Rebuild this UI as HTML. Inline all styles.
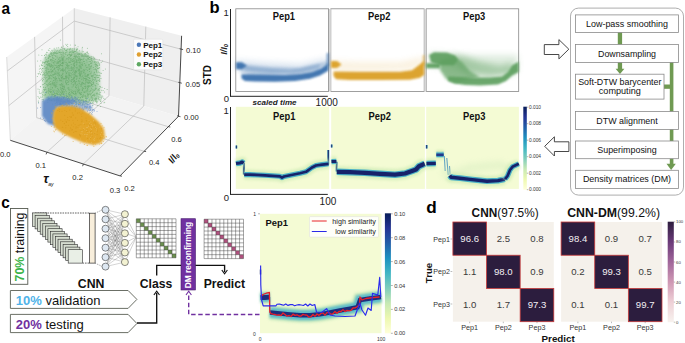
<!DOCTYPE html>
<html><head><meta charset="utf-8"><style>
html,body{margin:0;padding:0;background:#fff;width:685px;height:343px;overflow:hidden}
svg{display:block}
text{font-family:"Liberation Sans",sans-serif}
</style></head><body>
<svg width="685" height="343" viewBox="0 0 685 343" font-family="Liberation Sans, sans-serif">
<defs><filter id="blur05" filterUnits="userSpaceOnUse" x="0" y="0" width="685" height="343"><feGaussianBlur stdDeviation="0.5"/></filter><filter id="blur09" filterUnits="userSpaceOnUse" x="0" y="0" width="685" height="343"><feGaussianBlur stdDeviation="0.9"/></filter><filter id="blur1" filterUnits="userSpaceOnUse" x="0" y="0" width="685" height="343"><feGaussianBlur stdDeviation="1"/></filter><filter id="blur2" filterUnits="userSpaceOnUse" x="0" y="0" width="685" height="343"><feGaussianBlur stdDeviation="1.5"/></filter><filter id="blur3" filterUnits="userSpaceOnUse" x="0" y="0" width="685" height="343"><feGaussianBlur stdDeviation="3"/></filter></defs>
<rect width="685" height="343" fill="#fff"/>
<text transform="translate(1.6,13.7) scale(0.93,1)" font-size="16.5" font-weight="bold" fill="#000">a</text>
<polygon points="6.7,57.0 74.3,8.2 74.3,85.4 10.3,140.3" fill="#f5f5f5"/>
<polygon points="74.3,8.2 181.6,35.8 178.5,116.3 74.3,85.4" fill="#efefef"/>
<polygon points="10.3,140.3 74.3,85.4 178.5,116.3 120.0,175.9" fill="#f3f3f3"/>
<line x1="46.9" y1="152.2" x2="109.0" y2="95.7" stroke="#b4b4b4" stroke-width="0.6" fill="none"/>
<line x1="109.0" y1="95.7" x2="110.1" y2="17.4" stroke="#b4b4b4" stroke-width="0.6" fill="none"/>
<line x1="83.4" y1="164.0" x2="143.8" y2="106.0" stroke="#b4b4b4" stroke-width="0.6" fill="none"/>
<line x1="143.8" y1="106.0" x2="145.8" y2="26.6" stroke="#b4b4b4" stroke-width="0.6" fill="none"/>
<line x1="144.1" y1="151.3" x2="36.7" y2="117.7" stroke="#b4b4b4" stroke-width="0.6" fill="none"/>
<line x1="36.7" y1="117.7" x2="34.6" y2="36.9" stroke="#b4b4b4" stroke-width="0.6" fill="none"/>
<line x1="168.3" y1="126.7" x2="63.1" y2="95.0" stroke="#b4b4b4" stroke-width="0.6" fill="none"/>
<line x1="63.1" y1="95.0" x2="62.5" y2="16.7" stroke="#b4b4b4" stroke-width="0.6" fill="none"/>
<line x1="8.8" y1="105.6" x2="74.3" y2="53.2" stroke="#b4b4b4" stroke-width="0.6" fill="none"/>
<line x1="74.3" y1="53.2" x2="179.8" y2="82.8" stroke="#b4b4b4" stroke-width="0.6" fill="none"/>
<line x1="7.3" y1="70.9" x2="74.3" y2="21.1" stroke="#b4b4b4" stroke-width="0.6" fill="none"/>
<line x1="74.3" y1="21.1" x2="181.1" y2="49.2" stroke="#b4b4b4" stroke-width="0.6" fill="none"/>
<line x1="74.3" y1="8.2" x2="74.3" y2="85.4" stroke="#c4c4c4" stroke-width="0.7"/>
<line x1="10.3" y1="140.3" x2="6.7" y2="57.0" stroke="#c8c8c8" stroke-width="0.6"/>
<line x1="10.3" y1="140.3" x2="120.0" y2="175.9" stroke="#333" stroke-width="0.9"/>
<line x1="120.0" y1="175.9" x2="178.5" y2="116.3" stroke="#333" stroke-width="0.9"/>
<line x1="178.5" y1="116.3" x2="181.6" y2="35.8" stroke="#333" stroke-width="0.9"/>
<line x1="46.9" y1="152.2" x2="46.1" y2="154.4" stroke="#333" stroke-width="0.8"/>
<line x1="83.4" y1="164.0" x2="82.6" y2="166.2" stroke="#333" stroke-width="0.8"/>
<line x1="120.0" y1="175.9" x2="122.0" y2="176.2" stroke="#333" stroke-width="0.8"/>
<line x1="144.1" y1="151.3" x2="146.1" y2="151.6" stroke="#333" stroke-width="0.8"/>
<line x1="168.3" y1="126.7" x2="170.3" y2="127.0" stroke="#333" stroke-width="0.8"/>
<line x1="177.0" y1="115.8" x2="180.5" y2="116.7" stroke="#333" stroke-width="0.8"/>
<line x1="178.3" y1="82.3" x2="181.8" y2="83.2" stroke="#333" stroke-width="0.8"/>
<line x1="179.6" y1="48.7" x2="183.1" y2="49.6" stroke="#333" stroke-width="0.8"/>
<text x="0" y="156.5" font-size="7.6" font-weight="normal" font-style="normal" text-anchor="start" fill="#222" >0.0</text>
<text x="35.5" y="168.3" font-size="7.6" font-weight="normal" font-style="normal" text-anchor="start" fill="#222" >0.1</text>
<text x="72.3" y="180.2" font-size="7.6" font-weight="normal" font-style="normal" text-anchor="start" fill="#222" >0.2</text>
<text x="109.7" y="192.8" font-size="7.6" font-weight="normal" font-style="normal" text-anchor="start" fill="#222" >0.3</text>
<text x="124.2" y="190.6" font-size="7.6" font-weight="normal" font-style="normal" text-anchor="start" fill="#222" >0.2</text>
<text x="148.9" y="165.4" font-size="7.6" font-weight="normal" font-style="normal" text-anchor="start" fill="#222" >0.4</text>
<text x="171.2" y="141.8" font-size="7.6" font-weight="normal" font-style="normal" text-anchor="start" fill="#222" >0.6</text>
<text x="184" y="119.5" font-size="7.6" font-weight="normal" font-style="normal" text-anchor="start" fill="#222" >0.00</text>
<text x="185.5" y="86.5" font-size="7.6" font-weight="normal" font-style="normal" text-anchor="start" fill="#222" >0.05</text>
<text x="186" y="52.6" font-size="7.6" font-weight="normal" font-style="normal" text-anchor="start" fill="#222" >0.10</text>
<text x="43.2" y="183" font-size="13" font-weight="bold" font-style="italic" fill="#111">τ</text>
<text x="48.3" y="186.3" font-size="5" font-style="italic" fill="#111">ay</text>
<text transform="translate(176,159.6) rotate(-55)" x="0" y="0" font-size="9.5" font-weight="bold" font-style="italic" fill="#111" text-anchor="middle">I/I<tspan font-size="5.5" dy="1.5">0</tspan></text>
<text transform="translate(211.2,75) rotate(-90)" x="0" y="0" font-size="10" font-weight="bold" fill="#111" text-anchor="middle">STD</text>
<polygon points="43.5,61 46,56 53,51 62,48.5 75,49.5 90,56 99,63 100,100 85,104 60,101 43,99" fill="#7cb980" opacity="0.6" filter="url(#blur2)"/>
<polygon points="46,62 60,55 80,57 92,64 92,96 75,100 47,98" fill="#5ea862" opacity="0.35" filter="url(#blur3)"/>
<g fill="#5aa05f" opacity="0.6"><circle cx="69.5" cy="75.5" r="0.5"/><circle cx="49.3" cy="75.8" r="0.5"/><circle cx="83.1" cy="83.1" r="0.5"/><circle cx="49.7" cy="56.9" r="0.5"/><circle cx="73.4" cy="84.8" r="0.5"/><circle cx="83.7" cy="72.0" r="0.5"/><circle cx="87.0" cy="62.1" r="0.5"/><circle cx="64.8" cy="99.3" r="0.5"/><circle cx="105.0" cy="99.3" r="0.5"/><circle cx="81.3" cy="94.5" r="0.5"/><circle cx="48.8" cy="79.2" r="0.5"/><circle cx="49.7" cy="91.2" r="0.5"/><circle cx="59.7" cy="60.7" r="0.5"/><circle cx="42.5" cy="80.8" r="0.5"/><circle cx="79.3" cy="66.0" r="0.5"/><circle cx="101.4" cy="97.2" r="0.5"/><circle cx="79.5" cy="69.5" r="0.5"/><circle cx="78.9" cy="60.5" r="0.5"/><circle cx="76.3" cy="99.7" r="0.5"/><circle cx="77.2" cy="49.2" r="0.5"/><circle cx="85.8" cy="80.9" r="0.5"/><circle cx="86.5" cy="107.4" r="0.5"/><circle cx="81.8" cy="73.8" r="0.5"/><circle cx="100.9" cy="101.0" r="0.5"/><circle cx="92.9" cy="100.4" r="0.5"/><circle cx="81.0" cy="66.8" r="0.5"/><circle cx="64.0" cy="91.5" r="0.5"/><circle cx="67.7" cy="98.7" r="0.5"/><circle cx="70.6" cy="56.1" r="0.5"/><circle cx="84.8" cy="54.2" r="0.5"/><circle cx="78.0" cy="62.2" r="0.5"/><circle cx="48.2" cy="71.5" r="0.5"/><circle cx="51.4" cy="69.0" r="0.5"/><circle cx="38.3" cy="101.1" r="0.5"/><circle cx="87.0" cy="79.9" r="0.5"/><circle cx="53.1" cy="49.9" r="0.5"/><circle cx="81.3" cy="71.3" r="0.5"/><circle cx="85.3" cy="54.0" r="0.5"/><circle cx="87.4" cy="52.5" r="0.5"/><circle cx="60.9" cy="88.8" r="0.5"/><circle cx="80.2" cy="92.9" r="0.5"/><circle cx="93.0" cy="103.4" r="0.5"/><circle cx="103.1" cy="90.6" r="0.5"/><circle cx="82.9" cy="54.3" r="0.5"/><circle cx="94.9" cy="84.9" r="0.5"/><circle cx="75.6" cy="93.8" r="0.5"/><circle cx="38.0" cy="96.6" r="0.5"/><circle cx="73.9" cy="60.3" r="0.5"/><circle cx="76.3" cy="61.8" r="0.5"/><circle cx="96.9" cy="103.0" r="0.5"/><circle cx="77.3" cy="54.1" r="0.5"/><circle cx="72.2" cy="82.4" r="0.5"/><circle cx="93.7" cy="79.4" r="0.5"/><circle cx="55.4" cy="73.1" r="0.5"/><circle cx="70.3" cy="62.2" r="0.5"/><circle cx="80.5" cy="104.8" r="0.5"/><circle cx="52.4" cy="88.1" r="0.5"/><circle cx="61.6" cy="83.4" r="0.5"/><circle cx="54.0" cy="53.8" r="0.5"/><circle cx="67.4" cy="66.3" r="0.5"/><circle cx="74.1" cy="51.2" r="0.5"/><circle cx="81.5" cy="84.7" r="0.5"/><circle cx="88.3" cy="58.2" r="0.5"/><circle cx="45.1" cy="68.2" r="0.5"/><circle cx="72.4" cy="93.1" r="0.5"/><circle cx="85.4" cy="53.2" r="0.5"/><circle cx="73.1" cy="79.8" r="0.5"/><circle cx="91.1" cy="62.9" r="0.5"/><circle cx="73.1" cy="70.1" r="0.5"/><circle cx="49.1" cy="71.8" r="0.5"/><circle cx="65.2" cy="53.7" r="0.5"/><circle cx="81.3" cy="68.3" r="0.5"/><circle cx="92.0" cy="97.0" r="0.5"/><circle cx="91.2" cy="93.6" r="0.5"/><circle cx="82.0" cy="83.7" r="0.5"/><circle cx="83.5" cy="79.9" r="0.5"/><circle cx="54.5" cy="68.1" r="0.5"/><circle cx="50.1" cy="66.3" r="0.5"/><circle cx="70.0" cy="51.8" r="0.5"/><circle cx="66.3" cy="76.9" r="0.5"/><circle cx="62.3" cy="60.0" r="0.5"/><circle cx="76.4" cy="59.8" r="0.5"/><circle cx="68.8" cy="54.3" r="0.5"/><circle cx="74.0" cy="48.7" r="0.5"/><circle cx="84.1" cy="71.9" r="0.5"/><circle cx="88.9" cy="56.7" r="0.5"/><circle cx="100.3" cy="94.9" r="0.5"/><circle cx="61.9" cy="59.0" r="0.5"/><circle cx="76.7" cy="81.4" r="0.5"/><circle cx="66.6" cy="83.6" r="0.5"/><circle cx="75.0" cy="45.1" r="0.5"/><circle cx="84.7" cy="78.5" r="0.5"/><circle cx="62.9" cy="73.5" r="0.5"/><circle cx="80.9" cy="93.8" r="0.5"/><circle cx="59.4" cy="78.4" r="0.5"/><circle cx="43.0" cy="101.3" r="0.5"/><circle cx="86.0" cy="59.8" r="0.5"/><circle cx="61.8" cy="90.8" r="0.5"/><circle cx="44.5" cy="89.6" r="0.5"/><circle cx="67.5" cy="96.2" r="0.5"/><circle cx="62.3" cy="65.4" r="0.5"/><circle cx="63.9" cy="53.6" r="0.5"/><circle cx="99.4" cy="59.7" r="0.5"/><circle cx="73.1" cy="78.1" r="0.5"/><circle cx="46.4" cy="92.2" r="0.5"/><circle cx="73.6" cy="93.5" r="0.5"/><circle cx="71.5" cy="77.6" r="0.5"/><circle cx="87.0" cy="104.0" r="0.5"/><circle cx="87.1" cy="96.2" r="0.5"/><circle cx="66.3" cy="50.2" r="0.5"/><circle cx="50.7" cy="69.7" r="0.5"/><circle cx="78.1" cy="103.7" r="0.5"/><circle cx="52.9" cy="90.2" r="0.5"/><circle cx="52.1" cy="52.9" r="0.5"/><circle cx="48.4" cy="93.0" r="0.5"/><circle cx="75.5" cy="97.2" r="0.5"/><circle cx="70.7" cy="55.5" r="0.5"/><circle cx="74.0" cy="76.1" r="0.5"/><circle cx="93.4" cy="89.9" r="0.5"/><circle cx="54.7" cy="100.8" r="0.5"/><circle cx="66.0" cy="104.2" r="0.5"/><circle cx="58.4" cy="61.8" r="0.5"/><circle cx="58.0" cy="72.7" r="0.5"/><circle cx="61.9" cy="88.1" r="0.5"/><circle cx="95.7" cy="85.8" r="0.5"/><circle cx="63.2" cy="89.7" r="0.5"/><circle cx="76.6" cy="72.1" r="0.5"/><circle cx="80.4" cy="60.3" r="0.5"/><circle cx="74.9" cy="60.9" r="0.5"/><circle cx="64.2" cy="86.7" r="0.5"/><circle cx="50.4" cy="91.2" r="0.5"/><circle cx="59.9" cy="97.9" r="0.5"/><circle cx="96.3" cy="81.5" r="0.5"/><circle cx="52.3" cy="51.0" r="0.5"/><circle cx="66.7" cy="75.8" r="0.5"/><circle cx="91.2" cy="97.5" r="0.5"/><circle cx="59.9" cy="68.8" r="0.5"/><circle cx="92.9" cy="86.2" r="0.5"/><circle cx="101.0" cy="78.4" r="0.5"/><circle cx="72.0" cy="49.9" r="0.5"/><circle cx="81.2" cy="53.9" r="0.5"/><circle cx="53.6" cy="80.4" r="0.5"/><circle cx="76.4" cy="79.2" r="0.5"/><circle cx="56.8" cy="102.8" r="0.5"/><circle cx="77.3" cy="98.2" r="0.5"/><circle cx="75.4" cy="45.3" r="0.5"/><circle cx="83.4" cy="61.5" r="0.5"/><circle cx="89.1" cy="66.7" r="0.5"/><circle cx="69.7" cy="50.0" r="0.5"/><circle cx="77.0" cy="52.2" r="0.5"/><circle cx="55.0" cy="79.8" r="0.5"/><circle cx="69.8" cy="68.8" r="0.5"/><circle cx="97.6" cy="68.6" r="0.5"/><circle cx="76.7" cy="103.4" r="0.5"/><circle cx="90.1" cy="61.3" r="0.5"/><circle cx="72.2" cy="67.8" r="0.5"/><circle cx="86.0" cy="76.8" r="0.5"/><circle cx="58.1" cy="67.7" r="0.5"/><circle cx="83.9" cy="100.7" r="0.5"/><circle cx="76.8" cy="103.2" r="0.5"/><circle cx="57.5" cy="62.7" r="0.5"/><circle cx="100.4" cy="97.1" r="0.5"/><circle cx="61.7" cy="81.0" r="0.5"/><circle cx="70.0" cy="54.5" r="0.5"/><circle cx="96.3" cy="64.8" r="0.5"/><circle cx="50.5" cy="84.3" r="0.5"/><circle cx="98.6" cy="89.9" r="0.5"/><circle cx="87.2" cy="53.8" r="0.5"/><circle cx="78.5" cy="56.0" r="0.5"/><circle cx="67.7" cy="77.0" r="0.5"/><circle cx="54.1" cy="96.2" r="0.5"/><circle cx="56.5" cy="92.9" r="0.5"/><circle cx="56.1" cy="78.4" r="0.5"/><circle cx="69.2" cy="92.5" r="0.5"/><circle cx="76.0" cy="85.1" r="0.5"/><circle cx="83.4" cy="94.8" r="0.5"/><circle cx="72.4" cy="99.2" r="0.5"/><circle cx="92.6" cy="95.4" r="0.5"/><circle cx="71.2" cy="55.5" r="0.5"/><circle cx="49.0" cy="50.6" r="0.5"/><circle cx="71.7" cy="70.4" r="0.5"/><circle cx="54.9" cy="95.9" r="0.5"/><circle cx="93.0" cy="56.7" r="0.5"/><circle cx="80.7" cy="76.8" r="0.5"/><circle cx="48.4" cy="57.8" r="0.5"/><circle cx="46.4" cy="71.9" r="0.5"/><circle cx="46.2" cy="67.5" r="0.5"/><circle cx="66.6" cy="45.4" r="0.5"/><circle cx="52.6" cy="57.7" r="0.5"/><circle cx="86.0" cy="100.5" r="0.5"/><circle cx="99.8" cy="72.4" r="0.5"/><circle cx="51.5" cy="64.3" r="0.5"/><circle cx="75.6" cy="51.5" r="0.5"/><circle cx="51.4" cy="72.7" r="0.5"/><circle cx="87.5" cy="58.8" r="0.5"/><circle cx="91.5" cy="76.4" r="0.5"/><circle cx="64.4" cy="56.7" r="0.5"/><circle cx="46.9" cy="81.7" r="0.5"/><circle cx="58.5" cy="69.7" r="0.5"/><circle cx="45.8" cy="89.5" r="0.5"/><circle cx="88.2" cy="86.6" r="0.5"/><circle cx="50.7" cy="59.6" r="0.5"/><circle cx="52.3" cy="60.4" r="0.5"/><circle cx="52.9" cy="84.3" r="0.5"/><circle cx="66.8" cy="67.5" r="0.5"/><circle cx="63.6" cy="63.0" r="0.5"/><circle cx="56.1" cy="51.1" r="0.5"/><circle cx="70.2" cy="51.7" r="0.5"/><circle cx="66.4" cy="50.6" r="0.5"/><circle cx="86.5" cy="78.7" r="0.5"/><circle cx="40.5" cy="68.3" r="0.5"/><circle cx="71.7" cy="81.0" r="0.5"/><circle cx="59.4" cy="57.7" r="0.5"/><circle cx="54.9" cy="86.8" r="0.5"/><circle cx="91.5" cy="83.9" r="0.5"/><circle cx="65.6" cy="69.1" r="0.5"/><circle cx="95.7" cy="101.6" r="0.5"/><circle cx="72.5" cy="61.6" r="0.5"/><circle cx="52.5" cy="87.6" r="0.5"/><circle cx="53.2" cy="74.6" r="0.5"/><circle cx="75.5" cy="83.7" r="0.5"/><circle cx="61.0" cy="102.0" r="0.5"/><circle cx="87.5" cy="88.7" r="0.5"/><circle cx="80.8" cy="74.3" r="0.5"/><circle cx="62.6" cy="60.0" r="0.5"/><circle cx="74.4" cy="56.6" r="0.5"/><circle cx="59.4" cy="52.4" r="0.5"/><circle cx="43.4" cy="89.3" r="0.5"/><circle cx="68.5" cy="94.0" r="0.5"/><circle cx="93.3" cy="67.5" r="0.5"/><circle cx="54.1" cy="90.1" r="0.5"/><circle cx="95.7" cy="79.7" r="0.5"/><circle cx="84.2" cy="56.2" r="0.5"/><circle cx="66.2" cy="84.2" r="0.5"/><circle cx="87.4" cy="48.3" r="0.5"/><circle cx="44.7" cy="63.1" r="0.5"/><circle cx="75.1" cy="73.8" r="0.5"/><circle cx="56.4" cy="67.4" r="0.5"/><circle cx="46.6" cy="52.3" r="0.5"/><circle cx="44.7" cy="62.7" r="0.5"/><circle cx="76.7" cy="50.1" r="0.5"/><circle cx="55.7" cy="55.9" r="0.5"/><circle cx="62.3" cy="58.2" r="0.5"/><circle cx="83.3" cy="83.6" r="0.5"/><circle cx="67.9" cy="98.4" r="0.5"/><circle cx="90.3" cy="61.7" r="0.5"/><circle cx="93.0" cy="91.5" r="0.5"/><circle cx="65.0" cy="89.4" r="0.5"/><circle cx="52.4" cy="67.2" r="0.5"/><circle cx="83.3" cy="96.8" r="0.5"/><circle cx="81.9" cy="64.8" r="0.5"/><circle cx="101.2" cy="62.5" r="0.5"/><circle cx="60.1" cy="91.9" r="0.5"/><circle cx="89.5" cy="78.2" r="0.5"/><circle cx="61.2" cy="70.2" r="0.5"/><circle cx="72.2" cy="68.2" r="0.5"/><circle cx="86.8" cy="52.4" r="0.5"/><circle cx="46.7" cy="84.4" r="0.5"/><circle cx="82.4" cy="54.9" r="0.5"/><circle cx="99.9" cy="99.9" r="0.5"/><circle cx="72.3" cy="79.7" r="0.5"/><circle cx="96.3" cy="88.3" r="0.5"/><circle cx="83.9" cy="69.4" r="0.5"/><circle cx="52.6" cy="82.0" r="0.5"/><circle cx="68.2" cy="81.5" r="0.5"/><circle cx="54.1" cy="96.5" r="0.5"/><circle cx="74.6" cy="100.6" r="0.5"/><circle cx="56.1" cy="85.1" r="0.5"/><circle cx="76.0" cy="95.1" r="0.5"/><circle cx="98.3" cy="98.4" r="0.5"/><circle cx="80.4" cy="103.1" r="0.5"/><circle cx="99.1" cy="90.9" r="0.5"/><circle cx="84.1" cy="70.2" r="0.5"/><circle cx="60.4" cy="62.1" r="0.5"/><circle cx="56.1" cy="82.2" r="0.5"/><circle cx="69.6" cy="49.0" r="0.5"/><circle cx="89.0" cy="65.2" r="0.5"/><circle cx="65.4" cy="50.2" r="0.5"/><circle cx="66.6" cy="97.4" r="0.5"/><circle cx="60.9" cy="89.3" r="0.5"/><circle cx="56.6" cy="99.8" r="0.5"/><circle cx="89.5" cy="82.1" r="0.5"/><circle cx="86.0" cy="87.0" r="0.5"/><circle cx="54.1" cy="69.4" r="0.5"/><circle cx="95.1" cy="99.5" r="0.5"/><circle cx="42.4" cy="65.5" r="0.5"/><circle cx="88.1" cy="86.8" r="0.5"/><circle cx="100.6" cy="106.5" r="0.5"/><circle cx="81.6" cy="72.8" r="0.5"/><circle cx="69.5" cy="62.1" r="0.5"/><circle cx="51.1" cy="65.9" r="0.5"/><circle cx="64.4" cy="91.9" r="0.5"/><circle cx="48.0" cy="85.4" r="0.5"/><circle cx="88.6" cy="94.3" r="0.5"/><circle cx="104.0" cy="102.7" r="0.5"/><circle cx="61.3" cy="77.5" r="0.5"/><circle cx="44.0" cy="95.2" r="0.5"/><circle cx="72.5" cy="48.7" r="0.5"/><circle cx="57.2" cy="94.4" r="0.5"/><circle cx="68.5" cy="79.1" r="0.5"/><circle cx="105.4" cy="68.9" r="0.5"/><circle cx="47.1" cy="97.3" r="0.5"/><circle cx="39.3" cy="69.1" r="0.5"/><circle cx="59.7" cy="74.2" r="0.5"/><circle cx="72.1" cy="103.3" r="0.5"/><circle cx="57.6" cy="91.8" r="0.5"/><circle cx="62.5" cy="70.0" r="0.5"/><circle cx="61.8" cy="70.1" r="0.5"/><circle cx="39.6" cy="98.5" r="0.5"/><circle cx="74.0" cy="78.3" r="0.5"/><circle cx="58.6" cy="73.9" r="0.5"/><circle cx="90.0" cy="74.1" r="0.5"/><circle cx="65.3" cy="107.6" r="0.5"/><circle cx="79.1" cy="65.8" r="0.5"/><circle cx="79.9" cy="81.3" r="0.5"/><circle cx="55.4" cy="95.7" r="0.5"/><circle cx="97.9" cy="68.2" r="0.5"/><circle cx="95.9" cy="63.0" r="0.5"/><circle cx="95.0" cy="95.2" r="0.5"/><circle cx="40.1" cy="93.5" r="0.5"/><circle cx="90.2" cy="80.6" r="0.5"/><circle cx="89.1" cy="69.3" r="0.5"/><circle cx="63.2" cy="71.3" r="0.5"/><circle cx="44.5" cy="62.4" r="0.5"/><circle cx="84.0" cy="78.4" r="0.5"/><circle cx="76.3" cy="104.6" r="0.5"/><circle cx="84.6" cy="105.0" r="0.5"/><circle cx="43.6" cy="92.0" r="0.5"/><circle cx="78.2" cy="54.1" r="0.5"/><circle cx="47.8" cy="64.5" r="0.5"/><circle cx="73.4" cy="67.2" r="0.5"/><circle cx="96.6" cy="65.1" r="0.5"/><circle cx="86.2" cy="56.4" r="0.5"/><circle cx="88.6" cy="80.2" r="0.5"/><circle cx="87.6" cy="70.3" r="0.5"/><circle cx="68.8" cy="74.1" r="0.5"/><circle cx="76.9" cy="78.6" r="0.5"/><circle cx="51.7" cy="53.9" r="0.5"/><circle cx="88.3" cy="58.5" r="0.5"/><circle cx="57.1" cy="57.7" r="0.5"/><circle cx="70.9" cy="59.1" r="0.5"/><circle cx="79.9" cy="78.1" r="0.5"/><circle cx="91.8" cy="58.2" r="0.5"/><circle cx="52.8" cy="71.7" r="0.5"/><circle cx="76.8" cy="64.4" r="0.5"/><circle cx="43.3" cy="79.6" r="0.5"/><circle cx="40.4" cy="86.6" r="0.5"/><circle cx="49.3" cy="76.9" r="0.5"/><circle cx="71.9" cy="53.8" r="0.5"/><circle cx="66.0" cy="74.0" r="0.5"/><circle cx="76.4" cy="49.4" r="0.5"/><circle cx="97.8" cy="105.4" r="0.5"/><circle cx="71.3" cy="81.3" r="0.5"/><circle cx="95.7" cy="88.2" r="0.5"/><circle cx="60.2" cy="64.3" r="0.5"/><circle cx="91.5" cy="58.4" r="0.5"/><circle cx="73.9" cy="63.5" r="0.5"/><circle cx="70.5" cy="94.9" r="0.5"/><circle cx="53.2" cy="85.8" r="0.5"/><circle cx="49.3" cy="56.3" r="0.5"/><circle cx="59.7" cy="90.9" r="0.5"/><circle cx="92.9" cy="77.8" r="0.5"/><circle cx="91.0" cy="57.1" r="0.5"/><circle cx="63.3" cy="60.1" r="0.5"/><circle cx="68.7" cy="66.1" r="0.5"/><circle cx="55.7" cy="105.7" r="0.5"/><circle cx="49.3" cy="64.3" r="0.5"/><circle cx="58.1" cy="52.8" r="0.5"/><circle cx="73.9" cy="77.8" r="0.5"/><circle cx="41.9" cy="55.6" r="0.5"/><circle cx="72.3" cy="51.2" r="0.5"/><circle cx="96.9" cy="72.6" r="0.5"/><circle cx="90.9" cy="68.0" r="0.5"/><circle cx="93.5" cy="74.9" r="0.5"/><circle cx="69.5" cy="52.8" r="0.5"/><circle cx="80.6" cy="65.9" r="0.5"/><circle cx="80.9" cy="62.2" r="0.5"/><circle cx="99.6" cy="80.7" r="0.5"/><circle cx="74.9" cy="72.2" r="0.5"/><circle cx="97.4" cy="101.7" r="0.5"/><circle cx="48.3" cy="90.6" r="0.5"/><circle cx="61.0" cy="79.2" r="0.5"/><circle cx="77.3" cy="84.2" r="0.5"/><circle cx="42.5" cy="74.8" r="0.5"/><circle cx="71.3" cy="73.8" r="0.5"/><circle cx="96.6" cy="75.2" r="0.5"/><circle cx="85.3" cy="95.8" r="0.5"/><circle cx="94.3" cy="96.1" r="0.5"/><circle cx="94.7" cy="61.2" r="0.5"/><circle cx="60.7" cy="95.4" r="0.5"/><circle cx="40.6" cy="86.7" r="0.5"/><circle cx="71.4" cy="66.9" r="0.5"/><circle cx="86.0" cy="76.1" r="0.5"/><circle cx="55.6" cy="53.1" r="0.5"/><circle cx="91.7" cy="63.3" r="0.5"/><circle cx="73.6" cy="74.1" r="0.5"/><circle cx="98.1" cy="77.5" r="0.5"/><circle cx="89.6" cy="57.5" r="0.5"/><circle cx="77.8" cy="56.9" r="0.5"/><circle cx="65.8" cy="68.5" r="0.5"/><circle cx="75.7" cy="59.1" r="0.5"/><circle cx="82.6" cy="89.4" r="0.5"/><circle cx="104.7" cy="102.2" r="0.5"/><circle cx="67.5" cy="48.9" r="0.5"/><circle cx="77.3" cy="92.1" r="0.5"/><circle cx="82.8" cy="87.7" r="0.5"/><circle cx="39.3" cy="89.7" r="0.5"/><circle cx="39.9" cy="73.2" r="0.5"/><circle cx="71.0" cy="81.1" r="0.5"/><circle cx="51.9" cy="100.6" r="0.5"/><circle cx="54.5" cy="95.4" r="0.5"/><circle cx="68.3" cy="65.6" r="0.5"/><circle cx="68.6" cy="62.1" r="0.5"/><circle cx="84.3" cy="91.9" r="0.5"/><circle cx="84.2" cy="70.5" r="0.5"/><circle cx="52.3" cy="93.9" r="0.5"/><circle cx="54.7" cy="82.9" r="0.5"/><circle cx="95.1" cy="98.6" r="0.5"/><circle cx="89.8" cy="80.5" r="0.5"/><circle cx="86.8" cy="79.3" r="0.5"/><circle cx="55.8" cy="79.7" r="0.5"/><circle cx="71.7" cy="51.7" r="0.5"/><circle cx="100.3" cy="86.4" r="0.5"/><circle cx="94.0" cy="69.4" r="0.5"/><circle cx="79.6" cy="72.2" r="0.5"/><circle cx="61.4" cy="93.1" r="0.5"/><circle cx="57.6" cy="88.4" r="0.5"/><circle cx="95.6" cy="66.6" r="0.5"/><circle cx="61.8" cy="77.6" r="0.5"/><circle cx="63.0" cy="86.0" r="0.5"/><circle cx="54.0" cy="52.5" r="0.5"/><circle cx="55.0" cy="74.2" r="0.5"/><circle cx="51.2" cy="89.2" r="0.5"/><circle cx="60.3" cy="101.5" r="0.5"/><circle cx="70.1" cy="62.0" r="0.5"/><circle cx="94.5" cy="79.9" r="0.5"/><circle cx="60.6" cy="70.8" r="0.5"/><circle cx="48.3" cy="64.9" r="0.5"/><circle cx="52.3" cy="65.5" r="0.5"/><circle cx="78.0" cy="46.7" r="0.5"/><circle cx="55.6" cy="86.7" r="0.5"/><circle cx="59.2" cy="72.7" r="0.5"/><circle cx="76.4" cy="64.9" r="0.5"/><circle cx="53.9" cy="60.5" r="0.5"/><circle cx="69.8" cy="75.8" r="0.5"/><circle cx="99.9" cy="92.8" r="0.5"/><circle cx="83.5" cy="88.5" r="0.5"/><circle cx="65.7" cy="67.3" r="0.5"/><circle cx="69.7" cy="77.0" r="0.5"/><circle cx="92.8" cy="102.5" r="0.5"/><circle cx="37.6" cy="61.1" r="0.5"/><circle cx="93.3" cy="83.4" r="0.5"/><circle cx="85.2" cy="88.4" r="0.5"/><circle cx="68.7" cy="67.8" r="0.5"/><circle cx="58.3" cy="100.3" r="0.5"/><circle cx="78.6" cy="80.8" r="0.5"/><circle cx="51.6" cy="71.3" r="0.5"/><circle cx="60.2" cy="80.4" r="0.5"/><circle cx="43.3" cy="84.6" r="0.5"/><circle cx="46.1" cy="54.1" r="0.5"/><circle cx="49.3" cy="84.5" r="0.5"/><circle cx="63.6" cy="97.7" r="0.5"/><circle cx="102.1" cy="87.2" r="0.5"/><circle cx="49.4" cy="56.6" r="0.5"/><circle cx="84.2" cy="84.0" r="0.5"/><circle cx="87.7" cy="74.5" r="0.5"/><circle cx="71.4" cy="66.9" r="0.5"/><circle cx="62.7" cy="63.1" r="0.5"/><circle cx="78.7" cy="104.0" r="0.5"/><circle cx="76.7" cy="56.7" r="0.5"/><circle cx="96.8" cy="83.4" r="0.5"/><circle cx="90.8" cy="90.6" r="0.5"/><circle cx="63.4" cy="46.1" r="0.5"/><circle cx="82.1" cy="51.8" r="0.5"/><circle cx="74.6" cy="66.3" r="0.5"/><circle cx="76.9" cy="75.6" r="0.5"/><circle cx="49.9" cy="63.5" r="0.5"/><circle cx="99.9" cy="81.1" r="0.5"/><circle cx="75.0" cy="105.8" r="0.5"/><circle cx="63.6" cy="89.6" r="0.5"/><circle cx="86.9" cy="103.6" r="0.5"/><circle cx="89.3" cy="100.6" r="0.5"/><circle cx="46.3" cy="68.3" r="0.5"/><circle cx="45.5" cy="94.7" r="0.5"/><circle cx="81.3" cy="59.6" r="0.5"/><circle cx="79.7" cy="53.4" r="0.5"/><circle cx="62.3" cy="88.6" r="0.5"/><circle cx="60.4" cy="40.1" r="0.5"/><circle cx="87.6" cy="56.3" r="0.5"/><circle cx="66.3" cy="62.2" r="0.5"/><circle cx="58.5" cy="91.9" r="0.5"/><circle cx="49.2" cy="91.1" r="0.5"/><circle cx="84.6" cy="107.8" r="0.5"/><circle cx="95.4" cy="87.9" r="0.5"/><circle cx="97.6" cy="66.1" r="0.5"/><circle cx="74.3" cy="49.0" r="0.5"/><circle cx="95.3" cy="64.1" r="0.5"/><circle cx="91.8" cy="84.3" r="0.5"/><circle cx="79.3" cy="75.7" r="0.5"/><circle cx="56.9" cy="71.9" r="0.5"/><circle cx="70.8" cy="67.9" r="0.5"/><circle cx="79.3" cy="93.5" r="0.5"/><circle cx="70.8" cy="49.3" r="0.5"/><circle cx="100.1" cy="92.4" r="0.5"/><circle cx="84.6" cy="55.0" r="0.5"/><circle cx="51.0" cy="85.0" r="0.5"/><circle cx="58.9" cy="51.8" r="0.5"/><circle cx="90.7" cy="63.6" r="0.5"/><circle cx="86.1" cy="90.9" r="0.5"/><circle cx="95.5" cy="74.7" r="0.5"/><circle cx="62.2" cy="65.8" r="0.5"/><circle cx="86.6" cy="81.9" r="0.5"/><circle cx="63.0" cy="68.7" r="0.5"/><circle cx="82.6" cy="64.7" r="0.5"/><circle cx="97.0" cy="96.0" r="0.5"/><circle cx="96.7" cy="67.0" r="0.5"/><circle cx="54.1" cy="62.1" r="0.5"/><circle cx="63.2" cy="48.2" r="0.5"/><circle cx="81.9" cy="102.4" r="0.5"/><circle cx="54.3" cy="93.1" r="0.5"/><circle cx="99.2" cy="64.7" r="0.5"/><circle cx="50.5" cy="60.4" r="0.5"/><circle cx="56.0" cy="91.0" r="0.5"/><circle cx="82.0" cy="96.2" r="0.5"/><circle cx="49.8" cy="48.4" r="0.5"/><circle cx="93.0" cy="82.2" r="0.5"/><circle cx="68.6" cy="81.9" r="0.5"/><circle cx="98.5" cy="80.2" r="0.5"/><circle cx="65.8" cy="76.1" r="0.5"/><circle cx="58.3" cy="70.7" r="0.5"/><circle cx="91.4" cy="81.4" r="0.5"/><circle cx="65.7" cy="76.4" r="0.5"/><circle cx="69.3" cy="58.0" r="0.5"/><circle cx="74.4" cy="80.7" r="0.5"/><circle cx="101.5" cy="73.2" r="0.5"/><circle cx="61.4" cy="56.9" r="0.5"/><circle cx="87.8" cy="94.3" r="0.5"/><circle cx="68.9" cy="72.8" r="0.5"/><circle cx="68.8" cy="88.0" r="0.5"/><circle cx="59.5" cy="79.7" r="0.5"/><circle cx="103.8" cy="98.6" r="0.5"/><circle cx="58.8" cy="65.8" r="0.5"/><circle cx="63.5" cy="52.3" r="0.5"/><circle cx="88.1" cy="95.4" r="0.5"/><circle cx="89.1" cy="61.2" r="0.5"/><circle cx="67.8" cy="98.7" r="0.5"/><circle cx="78.8" cy="97.4" r="0.5"/><circle cx="53.7" cy="91.2" r="0.5"/><circle cx="65.7" cy="78.2" r="0.5"/><circle cx="76.7" cy="60.4" r="0.5"/><circle cx="84.6" cy="63.5" r="0.5"/><circle cx="63.2" cy="58.9" r="0.5"/><circle cx="57.4" cy="60.9" r="0.5"/><circle cx="38.1" cy="73.6" r="0.5"/><circle cx="99.3" cy="65.2" r="0.5"/><circle cx="92.5" cy="79.0" r="0.5"/><circle cx="60.8" cy="92.6" r="0.5"/><circle cx="88.3" cy="87.2" r="0.5"/><circle cx="74.4" cy="80.5" r="0.5"/><circle cx="95.0" cy="100.1" r="0.5"/><circle cx="90.1" cy="83.1" r="0.5"/><circle cx="76.5" cy="50.1" r="0.5"/><circle cx="71.2" cy="91.5" r="0.5"/><circle cx="55.7" cy="87.1" r="0.5"/><circle cx="60.0" cy="68.7" r="0.5"/><circle cx="52.4" cy="57.1" r="0.5"/><circle cx="82.3" cy="82.4" r="0.5"/><circle cx="89.8" cy="93.7" r="0.5"/><circle cx="55.5" cy="76.8" r="0.5"/><circle cx="59.3" cy="84.8" r="0.5"/><circle cx="96.2" cy="98.6" r="0.5"/><circle cx="84.6" cy="86.6" r="0.5"/><circle cx="62.5" cy="84.8" r="0.5"/><circle cx="69.3" cy="54.4" r="0.5"/><circle cx="85.0" cy="78.4" r="0.5"/><circle cx="52.3" cy="55.5" r="0.5"/><circle cx="86.1" cy="103.9" r="0.5"/><circle cx="88.7" cy="83.0" r="0.5"/><circle cx="82.0" cy="100.4" r="0.5"/><circle cx="69.3" cy="102.8" r="0.5"/><circle cx="64.4" cy="48.7" r="0.5"/><circle cx="66.5" cy="96.1" r="0.5"/><circle cx="73.7" cy="58.6" r="0.5"/><circle cx="94.7" cy="93.9" r="0.5"/><circle cx="78.8" cy="100.7" r="0.5"/><circle cx="47.4" cy="79.7" r="0.5"/><circle cx="54.7" cy="55.3" r="0.5"/><circle cx="79.7" cy="62.4" r="0.5"/><circle cx="42.5" cy="80.7" r="0.5"/><circle cx="87.6" cy="76.9" r="0.5"/><circle cx="94.9" cy="74.7" r="0.5"/><circle cx="38.0" cy="89.0" r="0.5"/><circle cx="44.4" cy="90.5" r="0.5"/><circle cx="59.7" cy="94.0" r="0.5"/><circle cx="65.8" cy="76.8" r="0.5"/><circle cx="56.7" cy="102.2" r="0.5"/><circle cx="91.5" cy="65.7" r="0.5"/><circle cx="52.8" cy="55.5" r="0.5"/><circle cx="95.6" cy="77.3" r="0.5"/><circle cx="85.5" cy="98.3" r="0.5"/><circle cx="40.8" cy="60.7" r="0.5"/><circle cx="99.4" cy="64.8" r="0.5"/><circle cx="61.6" cy="54.3" r="0.5"/><circle cx="80.4" cy="86.1" r="0.5"/><circle cx="52.1" cy="53.9" r="0.5"/><circle cx="56.3" cy="78.7" r="0.5"/><circle cx="86.0" cy="69.2" r="0.5"/><circle cx="45.9" cy="61.3" r="0.5"/><circle cx="85.1" cy="96.6" r="0.5"/><circle cx="89.2" cy="99.7" r="0.5"/><circle cx="77.0" cy="68.6" r="0.5"/><circle cx="41.7" cy="69.7" r="0.5"/><circle cx="75.9" cy="51.2" r="0.5"/><circle cx="96.4" cy="80.9" r="0.5"/><circle cx="78.6" cy="58.2" r="0.5"/><circle cx="50.9" cy="54.3" r="0.5"/><circle cx="89.8" cy="59.6" r="0.5"/><circle cx="56.8" cy="93.2" r="0.5"/><circle cx="54.5" cy="85.3" r="0.5"/><circle cx="46.2" cy="92.8" r="0.5"/><circle cx="59.3" cy="66.5" r="0.5"/><circle cx="87.9" cy="55.8" r="0.5"/><circle cx="75.4" cy="76.3" r="0.5"/><circle cx="75.8" cy="87.5" r="0.5"/><circle cx="75.8" cy="56.5" r="0.5"/><circle cx="57.1" cy="80.2" r="0.5"/><circle cx="50.6" cy="53.5" r="0.5"/><circle cx="73.7" cy="52.0" r="0.5"/><circle cx="79.2" cy="83.7" r="0.5"/><circle cx="80.1" cy="60.7" r="0.5"/><circle cx="85.6" cy="55.1" r="0.5"/><circle cx="75.5" cy="93.8" r="0.5"/><circle cx="62.8" cy="70.3" r="0.5"/><circle cx="80.7" cy="66.9" r="0.5"/><circle cx="80.3" cy="94.8" r="0.5"/><circle cx="89.4" cy="82.3" r="0.5"/><circle cx="75.5" cy="86.7" r="0.5"/><circle cx="48.0" cy="75.8" r="0.5"/><circle cx="47.9" cy="102.2" r="0.5"/><circle cx="68.3" cy="84.6" r="0.5"/><circle cx="47.8" cy="64.9" r="0.5"/><circle cx="79.1" cy="59.0" r="0.5"/><circle cx="71.1" cy="60.2" r="0.5"/><circle cx="52.7" cy="70.6" r="0.5"/><circle cx="79.3" cy="58.9" r="0.5"/><circle cx="60.1" cy="57.8" r="0.5"/><circle cx="67.4" cy="87.9" r="0.5"/><circle cx="67.6" cy="68.1" r="0.5"/><circle cx="73.6" cy="78.4" r="0.5"/><circle cx="104.4" cy="92.0" r="0.5"/><circle cx="94.9" cy="59.3" r="0.5"/><circle cx="53.3" cy="66.1" r="0.5"/><circle cx="55.7" cy="81.1" r="0.5"/><circle cx="53.4" cy="53.1" r="0.5"/><circle cx="85.5" cy="55.9" r="0.5"/><circle cx="72.7" cy="52.4" r="0.5"/><circle cx="82.5" cy="47.2" r="0.5"/><circle cx="42.1" cy="78.0" r="0.5"/><circle cx="55.0" cy="93.7" r="0.5"/><circle cx="80.8" cy="71.2" r="0.5"/><circle cx="53.9" cy="94.6" r="0.5"/><circle cx="45.2" cy="75.5" r="0.5"/><circle cx="68.6" cy="93.8" r="0.5"/><circle cx="64.8" cy="48.7" r="0.5"/><circle cx="73.8" cy="65.0" r="0.5"/><circle cx="72.9" cy="50.3" r="0.5"/><circle cx="54.3" cy="68.2" r="0.5"/><circle cx="79.0" cy="70.2" r="0.5"/><circle cx="66.6" cy="94.9" r="0.5"/><circle cx="43.6" cy="74.4" r="0.5"/><circle cx="44.5" cy="55.5" r="0.5"/><circle cx="91.2" cy="56.4" r="0.5"/><circle cx="93.6" cy="82.3" r="0.5"/><circle cx="73.8" cy="81.7" r="0.5"/><circle cx="81.8" cy="79.5" r="0.5"/><circle cx="65.6" cy="98.9" r="0.5"/><circle cx="91.6" cy="88.3" r="0.5"/><circle cx="53.9" cy="82.9" r="0.5"/><circle cx="79.7" cy="70.0" r="0.5"/><circle cx="59.0" cy="62.0" r="0.5"/><circle cx="91.3" cy="96.6" r="0.5"/><circle cx="66.1" cy="79.0" r="0.5"/><circle cx="48.8" cy="75.3" r="0.5"/><circle cx="56.8" cy="86.6" r="0.5"/><circle cx="78.2" cy="89.9" r="0.5"/><circle cx="81.2" cy="99.8" r="0.5"/><circle cx="54.4" cy="72.9" r="0.5"/><circle cx="61.3" cy="80.6" r="0.5"/><circle cx="54.2" cy="48.3" r="0.5"/><circle cx="73.8" cy="91.6" r="0.5"/><circle cx="47.2" cy="67.0" r="0.5"/><circle cx="60.1" cy="65.3" r="0.5"/><circle cx="61.5" cy="89.9" r="0.5"/><circle cx="65.7" cy="81.5" r="0.5"/><circle cx="62.2" cy="63.0" r="0.5"/><circle cx="52.9" cy="83.2" r="0.5"/><circle cx="53.5" cy="77.5" r="0.5"/><circle cx="88.1" cy="74.7" r="0.5"/><circle cx="48.8" cy="61.3" r="0.5"/><circle cx="56.7" cy="48.0" r="0.5"/><circle cx="73.8" cy="93.1" r="0.5"/><circle cx="42.8" cy="91.0" r="0.5"/><circle cx="46.1" cy="74.3" r="0.5"/><circle cx="92.5" cy="75.4" r="0.5"/><circle cx="64.0" cy="97.9" r="0.5"/><circle cx="67.1" cy="77.8" r="0.5"/><circle cx="79.3" cy="73.4" r="0.5"/><circle cx="82.2" cy="71.0" r="0.5"/><circle cx="90.9" cy="73.5" r="0.5"/><circle cx="92.3" cy="76.4" r="0.5"/><circle cx="80.0" cy="68.6" r="0.5"/><circle cx="60.7" cy="85.8" r="0.5"/><circle cx="71.3" cy="70.0" r="0.5"/><circle cx="55.5" cy="79.0" r="0.5"/><circle cx="98.0" cy="75.5" r="0.5"/><circle cx="80.3" cy="74.3" r="0.5"/><circle cx="65.6" cy="52.5" r="0.5"/><circle cx="93.2" cy="76.1" r="0.5"/><circle cx="80.3" cy="98.1" r="0.5"/><circle cx="72.6" cy="72.2" r="0.5"/><circle cx="55.2" cy="53.0" r="0.5"/><circle cx="69.5" cy="92.3" r="0.5"/><circle cx="89.9" cy="82.0" r="0.5"/><circle cx="80.8" cy="84.6" r="0.5"/><circle cx="62.3" cy="91.3" r="0.5"/><circle cx="81.3" cy="56.1" r="0.5"/><circle cx="96.3" cy="99.0" r="0.5"/><circle cx="50.9" cy="92.6" r="0.5"/><circle cx="90.9" cy="58.8" r="0.5"/><circle cx="100.5" cy="101.5" r="0.5"/><circle cx="67.6" cy="55.1" r="0.5"/><circle cx="62.1" cy="91.4" r="0.5"/><circle cx="57.4" cy="97.7" r="0.5"/><circle cx="73.6" cy="61.3" r="0.5"/><circle cx="47.2" cy="73.8" r="0.5"/><circle cx="78.2" cy="87.2" r="0.5"/><circle cx="79.7" cy="58.1" r="0.5"/><circle cx="50.7" cy="81.6" r="0.5"/><circle cx="55.2" cy="83.9" r="0.5"/><circle cx="74.3" cy="63.8" r="0.5"/><circle cx="63.4" cy="94.2" r="0.5"/><circle cx="60.4" cy="87.5" r="0.5"/><circle cx="42.6" cy="94.4" r="0.5"/><circle cx="92.3" cy="84.4" r="0.5"/><circle cx="48.3" cy="50.0" r="0.5"/><circle cx="39.5" cy="93.1" r="0.5"/><circle cx="78.8" cy="80.9" r="0.5"/><circle cx="61.2" cy="49.8" r="0.5"/><circle cx="74.7" cy="54.9" r="0.5"/><circle cx="58.4" cy="89.2" r="0.5"/><circle cx="96.6" cy="71.4" r="0.5"/><circle cx="56.9" cy="84.0" r="0.5"/><circle cx="82.1" cy="50.0" r="0.5"/><circle cx="79.5" cy="56.8" r="0.5"/><circle cx="79.2" cy="83.1" r="0.5"/><circle cx="75.8" cy="56.4" r="0.5"/><circle cx="72.0" cy="96.1" r="0.5"/><circle cx="90.2" cy="94.4" r="0.5"/><circle cx="89.3" cy="64.6" r="0.5"/><circle cx="85.9" cy="91.9" r="0.5"/><circle cx="57.6" cy="53.3" r="0.5"/><circle cx="58.4" cy="90.0" r="0.5"/><circle cx="64.5" cy="87.6" r="0.5"/><circle cx="80.1" cy="75.4" r="0.5"/><circle cx="88.2" cy="59.6" r="0.5"/><circle cx="48.5" cy="58.1" r="0.5"/><circle cx="59.2" cy="50.4" r="0.5"/><circle cx="85.4" cy="97.0" r="0.5"/><circle cx="74.5" cy="96.8" r="0.5"/><circle cx="98.9" cy="94.2" r="0.5"/><circle cx="69.1" cy="95.2" r="0.5"/><circle cx="78.2" cy="90.7" r="0.5"/><circle cx="42.5" cy="62.0" r="0.5"/><circle cx="60.0" cy="51.9" r="0.5"/><circle cx="62.3" cy="99.3" r="0.5"/><circle cx="45.9" cy="70.6" r="0.5"/><circle cx="76.3" cy="55.7" r="0.5"/><circle cx="45.1" cy="58.8" r="0.5"/><circle cx="44.5" cy="83.5" r="0.5"/><circle cx="68.4" cy="78.1" r="0.5"/><circle cx="51.1" cy="91.6" r="0.5"/><circle cx="51.3" cy="53.5" r="0.5"/><circle cx="69.9" cy="80.7" r="0.5"/><circle cx="65.5" cy="90.7" r="0.5"/><circle cx="68.7" cy="57.7" r="0.5"/><circle cx="60.3" cy="53.9" r="0.5"/><circle cx="49.0" cy="98.4" r="0.5"/><circle cx="96.1" cy="100.2" r="0.5"/><circle cx="48.6" cy="99.4" r="0.5"/><circle cx="67.6" cy="55.4" r="0.5"/><circle cx="81.8" cy="55.9" r="0.5"/><circle cx="89.3" cy="86.3" r="0.5"/><circle cx="74.8" cy="74.2" r="0.5"/><circle cx="91.6" cy="60.6" r="0.5"/><circle cx="66.8" cy="80.5" r="0.5"/><circle cx="63.1" cy="79.0" r="0.5"/><circle cx="87.9" cy="79.7" r="0.5"/><circle cx="86.8" cy="55.2" r="0.5"/><circle cx="42.5" cy="68.5" r="0.5"/><circle cx="67.0" cy="51.0" r="0.5"/><circle cx="85.5" cy="82.8" r="0.5"/><circle cx="58.7" cy="63.2" r="0.5"/><circle cx="57.3" cy="93.2" r="0.5"/><circle cx="76.0" cy="90.0" r="0.5"/><circle cx="88.5" cy="64.8" r="0.5"/><circle cx="43.4" cy="62.2" r="0.5"/><circle cx="80.0" cy="72.5" r="0.5"/><circle cx="74.8" cy="100.6" r="0.5"/><circle cx="51.0" cy="83.5" r="0.5"/><circle cx="99.5" cy="94.0" r="0.5"/><circle cx="99.0" cy="99.4" r="0.5"/><circle cx="82.1" cy="84.1" r="0.5"/><circle cx="42.5" cy="63.1" r="0.5"/><circle cx="81.5" cy="85.9" r="0.5"/><circle cx="69.7" cy="95.9" r="0.5"/><circle cx="61.5" cy="95.9" r="0.5"/><circle cx="88.6" cy="82.0" r="0.5"/><circle cx="78.5" cy="88.7" r="0.5"/><circle cx="80.9" cy="67.3" r="0.5"/><circle cx="57.0" cy="55.9" r="0.5"/><circle cx="37.3" cy="76.4" r="0.5"/><circle cx="70.2" cy="55.3" r="0.5"/><circle cx="96.8" cy="62.2" r="0.5"/><circle cx="90.9" cy="95.1" r="0.5"/><circle cx="98.7" cy="89.6" r="0.5"/><circle cx="86.5" cy="100.9" r="0.5"/><circle cx="82.8" cy="103.7" r="0.5"/><circle cx="86.9" cy="97.1" r="0.5"/><circle cx="97.3" cy="93.0" r="0.5"/><circle cx="47.2" cy="86.0" r="0.5"/><circle cx="68.0" cy="68.8" r="0.5"/><circle cx="38.5" cy="102.2" r="0.5"/><circle cx="78.6" cy="69.0" r="0.5"/><circle cx="61.7" cy="93.6" r="0.5"/><circle cx="69.1" cy="78.9" r="0.5"/><circle cx="85.0" cy="53.5" r="0.5"/><circle cx="62.6" cy="92.2" r="0.5"/><circle cx="85.3" cy="84.1" r="0.5"/><circle cx="76.9" cy="70.0" r="0.5"/><circle cx="97.8" cy="75.2" r="0.5"/><circle cx="74.4" cy="51.6" r="0.5"/><circle cx="84.9" cy="76.1" r="0.5"/><circle cx="71.5" cy="68.7" r="0.5"/><circle cx="54.0" cy="80.8" r="0.5"/><circle cx="80.5" cy="75.5" r="0.5"/><circle cx="88.6" cy="53.8" r="0.5"/><circle cx="75.3" cy="108.1" r="0.5"/><circle cx="69.4" cy="62.6" r="0.5"/><circle cx="67.7" cy="65.9" r="0.5"/><circle cx="80.0" cy="75.8" r="0.5"/><circle cx="75.1" cy="81.4" r="0.5"/><circle cx="101.3" cy="98.3" r="0.5"/><circle cx="100.9" cy="87.4" r="0.5"/><circle cx="89.6" cy="69.5" r="0.5"/><circle cx="100.1" cy="73.6" r="0.5"/><circle cx="87.5" cy="86.7" r="0.5"/><circle cx="72.7" cy="59.6" r="0.5"/><circle cx="48.0" cy="60.9" r="0.5"/><circle cx="64.1" cy="70.0" r="0.5"/><circle cx="61.0" cy="52.6" r="0.5"/><circle cx="74.6" cy="77.6" r="0.5"/><circle cx="80.4" cy="94.4" r="0.5"/><circle cx="86.8" cy="97.9" r="0.5"/><circle cx="82.1" cy="47.9" r="0.5"/><circle cx="68.6" cy="87.7" r="0.5"/><circle cx="54.1" cy="84.4" r="0.5"/><circle cx="67.8" cy="80.5" r="0.5"/><circle cx="62.1" cy="76.9" r="0.5"/><circle cx="57.9" cy="73.2" r="0.5"/><circle cx="49.2" cy="76.3" r="0.5"/><circle cx="77.3" cy="91.8" r="0.5"/><circle cx="57.9" cy="69.2" r="0.5"/><circle cx="51.2" cy="100.3" r="0.5"/><circle cx="75.4" cy="82.6" r="0.5"/><circle cx="67.0" cy="49.3" r="0.5"/><circle cx="44.2" cy="72.1" r="0.5"/><circle cx="86.1" cy="98.6" r="0.5"/><circle cx="97.8" cy="93.2" r="0.5"/><circle cx="87.0" cy="76.1" r="0.5"/><circle cx="52.9" cy="94.4" r="0.5"/><circle cx="72.0" cy="61.2" r="0.5"/><circle cx="63.6" cy="78.5" r="0.5"/><circle cx="90.6" cy="86.0" r="0.5"/><circle cx="50.3" cy="56.6" r="0.5"/><circle cx="89.1" cy="91.8" r="0.5"/><circle cx="85.6" cy="80.2" r="0.5"/><circle cx="76.6" cy="106.0" r="0.5"/><circle cx="59.8" cy="61.6" r="0.5"/><circle cx="91.5" cy="85.4" r="0.5"/><circle cx="86.7" cy="101.5" r="0.5"/><circle cx="75.6" cy="75.4" r="0.5"/><circle cx="91.4" cy="75.6" r="0.5"/><circle cx="70.8" cy="98.0" r="0.5"/><circle cx="99.9" cy="78.2" r="0.5"/><circle cx="74.5" cy="65.4" r="0.5"/><circle cx="55.5" cy="71.1" r="0.5"/><circle cx="41.5" cy="65.6" r="0.5"/><circle cx="58.8" cy="59.0" r="0.5"/><circle cx="57.0" cy="90.7" r="0.5"/><circle cx="99.5" cy="88.2" r="0.5"/><circle cx="82.3" cy="65.2" r="0.5"/><circle cx="55.8" cy="77.8" r="0.5"/><circle cx="76.8" cy="101.2" r="0.5"/><circle cx="74.2" cy="94.4" r="0.5"/><circle cx="73.3" cy="86.1" r="0.5"/><circle cx="88.7" cy="85.7" r="0.5"/><circle cx="76.2" cy="48.1" r="0.5"/><circle cx="48.8" cy="78.3" r="0.5"/><circle cx="83.7" cy="72.8" r="0.5"/><circle cx="79.5" cy="92.3" r="0.5"/><circle cx="64.9" cy="78.5" r="0.5"/><circle cx="57.0" cy="66.7" r="0.5"/><circle cx="38.8" cy="55.0" r="0.5"/><circle cx="95.8" cy="65.1" r="0.5"/><circle cx="80.0" cy="64.9" r="0.5"/><circle cx="45.4" cy="87.5" r="0.5"/><circle cx="60.7" cy="76.1" r="0.5"/><circle cx="65.6" cy="104.0" r="0.5"/><circle cx="94.5" cy="77.4" r="0.5"/><circle cx="87.9" cy="85.7" r="0.5"/><circle cx="87.9" cy="89.7" r="0.5"/><circle cx="98.3" cy="68.6" r="0.5"/><circle cx="70.9" cy="48.4" r="0.5"/><circle cx="61.3" cy="65.4" r="0.5"/><circle cx="77.3" cy="60.1" r="0.5"/><circle cx="87.7" cy="88.7" r="0.5"/><circle cx="75.7" cy="72.7" r="0.5"/><circle cx="56.8" cy="53.2" r="0.5"/><circle cx="48.1" cy="91.7" r="0.5"/><circle cx="62.9" cy="62.4" r="0.5"/><circle cx="45.6" cy="61.9" r="0.5"/><circle cx="88.1" cy="75.5" r="0.5"/><circle cx="73.9" cy="68.3" r="0.5"/><circle cx="62.4" cy="68.9" r="0.5"/><circle cx="52.8" cy="71.5" r="0.5"/><circle cx="70.9" cy="52.4" r="0.5"/><circle cx="94.7" cy="77.6" r="0.5"/><circle cx="85.7" cy="65.7" r="0.5"/><circle cx="68.5" cy="97.2" r="0.5"/><circle cx="38.9" cy="97.8" r="0.5"/><circle cx="73.3" cy="52.4" r="0.5"/><circle cx="52.6" cy="83.1" r="0.5"/><circle cx="99.7" cy="75.4" r="0.5"/><circle cx="48.7" cy="60.7" r="0.5"/><circle cx="97.2" cy="65.2" r="0.5"/><circle cx="76.8" cy="61.2" r="0.5"/><circle cx="72.1" cy="74.8" r="0.5"/><circle cx="96.7" cy="70.5" r="0.5"/><circle cx="55.2" cy="95.6" r="0.5"/><circle cx="76.5" cy="87.9" r="0.5"/><circle cx="50.9" cy="87.0" r="0.5"/><circle cx="53.6" cy="94.5" r="0.5"/><circle cx="68.1" cy="75.1" r="0.5"/><circle cx="47.1" cy="52.4" r="0.5"/><circle cx="89.3" cy="85.7" r="0.5"/><circle cx="58.7" cy="59.3" r="0.5"/><circle cx="77.0" cy="49.3" r="0.5"/><circle cx="81.1" cy="59.6" r="0.5"/><circle cx="97.7" cy="77.6" r="0.5"/><circle cx="61.6" cy="84.2" r="0.5"/><circle cx="95.8" cy="99.3" r="0.5"/><circle cx="102.8" cy="96.9" r="0.5"/><circle cx="51.0" cy="54.7" r="0.5"/><circle cx="76.5" cy="71.6" r="0.5"/><circle cx="93.6" cy="84.0" r="0.5"/><circle cx="47.8" cy="65.2" r="0.5"/><circle cx="82.5" cy="90.3" r="0.5"/><circle cx="91.6" cy="100.2" r="0.5"/><circle cx="76.7" cy="85.8" r="0.5"/><circle cx="81.8" cy="99.9" r="0.5"/><circle cx="48.1" cy="69.4" r="0.5"/><circle cx="54.6" cy="74.2" r="0.5"/><circle cx="73.5" cy="52.3" r="0.5"/><circle cx="55.5" cy="59.5" r="0.5"/><circle cx="85.8" cy="86.0" r="0.5"/><circle cx="87.7" cy="75.6" r="0.5"/><circle cx="66.0" cy="77.3" r="0.5"/><circle cx="57.5" cy="63.0" r="0.5"/><circle cx="47.7" cy="62.1" r="0.5"/><circle cx="61.4" cy="56.1" r="0.5"/><circle cx="92.7" cy="60.9" r="0.5"/><circle cx="51.3" cy="52.6" r="0.5"/><circle cx="107.1" cy="89.5" r="0.5"/><circle cx="75.1" cy="83.8" r="0.5"/><circle cx="91.7" cy="85.4" r="0.5"/><circle cx="45.8" cy="54.3" r="0.5"/><circle cx="85.9" cy="65.1" r="0.5"/><circle cx="47.9" cy="84.7" r="0.5"/><circle cx="49.8" cy="94.8" r="0.5"/><circle cx="48.7" cy="88.8" r="0.5"/><circle cx="96.6" cy="102.2" r="0.5"/><circle cx="64.8" cy="79.1" r="0.5"/><circle cx="87.8" cy="67.3" r="0.5"/><circle cx="48.7" cy="83.8" r="0.5"/><circle cx="61.6" cy="46.9" r="0.5"/><circle cx="69.1" cy="72.9" r="0.5"/><circle cx="53.2" cy="53.0" r="0.5"/><circle cx="75.2" cy="58.1" r="0.5"/><circle cx="67.6" cy="71.7" r="0.5"/><circle cx="68.8" cy="89.3" r="0.5"/><circle cx="55.8" cy="73.7" r="0.5"/><circle cx="78.7" cy="53.8" r="0.5"/><circle cx="54.9" cy="61.4" r="0.5"/><circle cx="88.5" cy="74.3" r="0.5"/><circle cx="61.5" cy="75.6" r="0.5"/><circle cx="44.3" cy="73.5" r="0.5"/><circle cx="44.6" cy="66.6" r="0.5"/><circle cx="49.4" cy="98.6" r="0.5"/><circle cx="62.5" cy="77.7" r="0.5"/><circle cx="100.9" cy="99.8" r="0.5"/><circle cx="62.5" cy="62.2" r="0.5"/><circle cx="83.9" cy="83.5" r="0.5"/><circle cx="80.7" cy="97.5" r="0.5"/><circle cx="49.5" cy="55.2" r="0.5"/><circle cx="98.0" cy="61.3" r="0.5"/><circle cx="61.9" cy="52.6" r="0.5"/><circle cx="98.2" cy="77.4" r="0.5"/><circle cx="51.8" cy="50.3" r="0.5"/><circle cx="55.6" cy="56.0" r="0.5"/><circle cx="65.9" cy="44.3" r="0.5"/><circle cx="75.7" cy="57.2" r="0.5"/><circle cx="94.0" cy="73.7" r="0.5"/><circle cx="94.5" cy="95.1" r="0.5"/><circle cx="75.6" cy="92.3" r="0.5"/><circle cx="41.6" cy="72.2" r="0.5"/><circle cx="59.2" cy="80.7" r="0.5"/><circle cx="58.0" cy="67.6" r="0.5"/><circle cx="76.1" cy="104.1" r="0.5"/><circle cx="82.7" cy="63.1" r="0.5"/><circle cx="65.9" cy="54.4" r="0.5"/><circle cx="56.6" cy="78.4" r="0.5"/><circle cx="64.0" cy="96.7" r="0.5"/><circle cx="85.4" cy="86.5" r="0.5"/><circle cx="47.2" cy="72.9" r="0.5"/><circle cx="79.0" cy="73.2" r="0.5"/><circle cx="75.3" cy="70.4" r="0.5"/><circle cx="87.0" cy="57.1" r="0.5"/><circle cx="67.7" cy="101.1" r="0.5"/><circle cx="70.9" cy="58.5" r="0.5"/><circle cx="77.6" cy="48.7" r="0.5"/><circle cx="82.7" cy="56.2" r="0.5"/><circle cx="57.7" cy="94.2" r="0.5"/><circle cx="48.5" cy="89.0" r="0.5"/><circle cx="79.6" cy="71.1" r="0.5"/><circle cx="104.7" cy="88.5" r="0.5"/><circle cx="73.5" cy="70.9" r="0.5"/><circle cx="74.1" cy="56.6" r="0.5"/><circle cx="51.7" cy="78.8" r="0.5"/><circle cx="56.9" cy="51.8" r="0.5"/><circle cx="63.2" cy="58.1" r="0.5"/><circle cx="65.9" cy="82.6" r="0.5"/><circle cx="86.0" cy="79.0" r="0.5"/><circle cx="96.1" cy="77.0" r="0.5"/><circle cx="69.0" cy="89.2" r="0.5"/><circle cx="75.7" cy="55.0" r="0.5"/><circle cx="84.3" cy="61.6" r="0.5"/><circle cx="84.5" cy="92.3" r="0.5"/><circle cx="87.5" cy="81.9" r="0.5"/><circle cx="93.3" cy="101.0" r="0.5"/><circle cx="94.8" cy="99.0" r="0.5"/><circle cx="99.0" cy="97.6" r="0.5"/><circle cx="92.8" cy="98.1" r="0.5"/><circle cx="81.2" cy="64.3" r="0.5"/><circle cx="49.5" cy="82.8" r="0.5"/><circle cx="52.0" cy="92.1" r="0.5"/><circle cx="77.2" cy="76.8" r="0.5"/><circle cx="47.6" cy="100.1" r="0.5"/><circle cx="71.4" cy="83.7" r="0.5"/><circle cx="88.8" cy="56.0" r="0.5"/><circle cx="99.5" cy="89.9" r="0.5"/><circle cx="47.2" cy="80.8" r="0.5"/><circle cx="41.2" cy="92.9" r="0.5"/><circle cx="93.4" cy="94.8" r="0.5"/><circle cx="82.0" cy="77.9" r="0.5"/><circle cx="78.9" cy="71.1" r="0.5"/><circle cx="102.7" cy="96.1" r="0.5"/><circle cx="101.5" cy="53.8" r="0.5"/><circle cx="79.3" cy="67.0" r="0.5"/><circle cx="62.3" cy="74.6" r="0.5"/><circle cx="44.1" cy="74.8" r="0.5"/><circle cx="61.1" cy="77.7" r="0.5"/><circle cx="96.2" cy="92.9" r="0.5"/><circle cx="74.9" cy="62.6" r="0.5"/><circle cx="50.8" cy="59.5" r="0.5"/><circle cx="50.9" cy="64.7" r="0.5"/><circle cx="59.1" cy="61.3" r="0.5"/><circle cx="43.0" cy="68.5" r="0.5"/><circle cx="40.6" cy="96.9" r="0.5"/><circle cx="53.7" cy="98.8" r="0.5"/><circle cx="70.8" cy="60.0" r="0.5"/><circle cx="54.1" cy="78.0" r="0.5"/><circle cx="68.2" cy="75.9" r="0.5"/><circle cx="54.4" cy="53.2" r="0.5"/><circle cx="90.1" cy="91.2" r="0.5"/><circle cx="82.1" cy="96.3" r="0.5"/><circle cx="77.7" cy="89.7" r="0.5"/><circle cx="58.9" cy="76.1" r="0.5"/><circle cx="65.1" cy="102.0" r="0.5"/><circle cx="49.6" cy="78.0" r="0.5"/><circle cx="85.5" cy="88.1" r="0.5"/><circle cx="79.4" cy="50.8" r="0.5"/><circle cx="97.1" cy="80.8" r="0.5"/><circle cx="67.7" cy="82.6" r="0.5"/><circle cx="92.6" cy="92.5" r="0.5"/><circle cx="49.9" cy="100.2" r="0.5"/><circle cx="42.0" cy="97.2" r="0.5"/><circle cx="69.2" cy="74.7" r="0.5"/><circle cx="78.8" cy="91.9" r="0.5"/><circle cx="56.9" cy="65.2" r="0.5"/><circle cx="42.2" cy="99.4" r="0.5"/><circle cx="62.0" cy="63.2" r="0.5"/><circle cx="92.8" cy="95.6" r="0.5"/><circle cx="43.7" cy="87.4" r="0.5"/><circle cx="71.0" cy="93.7" r="0.5"/><circle cx="66.4" cy="76.7" r="0.5"/><circle cx="58.3" cy="65.4" r="0.5"/><circle cx="99.5" cy="79.4" r="0.5"/><circle cx="79.0" cy="102.8" r="0.5"/><circle cx="75.6" cy="71.3" r="0.5"/><circle cx="42.5" cy="84.7" r="0.5"/><circle cx="70.0" cy="54.8" r="0.5"/><circle cx="51.9" cy="55.7" r="0.5"/><circle cx="43.3" cy="99.2" r="0.5"/><circle cx="51.3" cy="94.1" r="0.5"/><circle cx="98.1" cy="84.2" r="0.5"/><circle cx="92.5" cy="99.6" r="0.5"/><circle cx="73.0" cy="79.3" r="0.5"/><circle cx="69.7" cy="94.6" r="0.5"/><circle cx="54.3" cy="64.9" r="0.5"/><circle cx="71.2" cy="64.6" r="0.5"/><circle cx="75.6" cy="99.1" r="0.5"/><circle cx="54.3" cy="98.0" r="0.5"/><circle cx="76.6" cy="93.7" r="0.5"/><circle cx="57.1" cy="81.9" r="0.5"/><circle cx="67.7" cy="44.2" r="0.5"/><circle cx="61.1" cy="94.2" r="0.5"/><circle cx="95.2" cy="69.5" r="0.5"/><circle cx="54.8" cy="49.7" r="0.5"/><circle cx="49.2" cy="54.3" r="0.5"/><circle cx="72.3" cy="103.6" r="0.5"/><circle cx="70.1" cy="72.9" r="0.5"/><circle cx="95.3" cy="68.8" r="0.5"/><circle cx="54.2" cy="82.5" r="0.5"/><circle cx="51.2" cy="61.1" r="0.5"/><circle cx="89.5" cy="78.1" r="0.5"/><circle cx="69.2" cy="98.7" r="0.5"/><circle cx="55.9" cy="50.0" r="0.5"/><circle cx="85.4" cy="78.6" r="0.5"/><circle cx="65.7" cy="80.7" r="0.5"/><circle cx="90.0" cy="98.9" r="0.5"/><circle cx="56.3" cy="98.8" r="0.5"/><circle cx="64.6" cy="78.4" r="0.5"/><circle cx="70.0" cy="70.4" r="0.5"/><circle cx="72.1" cy="87.0" r="0.5"/><circle cx="64.5" cy="85.9" r="0.5"/><circle cx="92.0" cy="61.9" r="0.5"/><circle cx="88.8" cy="94.3" r="0.5"/><circle cx="60.4" cy="80.8" r="0.5"/><circle cx="46.3" cy="54.9" r="0.5"/><circle cx="47.2" cy="61.2" r="0.5"/><circle cx="60.1" cy="60.7" r="0.5"/><circle cx="72.4" cy="92.4" r="0.5"/><circle cx="62.4" cy="59.5" r="0.5"/><circle cx="57.8" cy="75.2" r="0.5"/><circle cx="78.0" cy="70.8" r="0.5"/><circle cx="58.4" cy="62.2" r="0.5"/><circle cx="80.0" cy="63.3" r="0.5"/><circle cx="60.9" cy="104.2" r="0.5"/><circle cx="99.1" cy="68.1" r="0.5"/><circle cx="71.0" cy="89.7" r="0.5"/><circle cx="87.7" cy="93.2" r="0.5"/><circle cx="83.0" cy="95.6" r="0.5"/><circle cx="48.8" cy="78.5" r="0.5"/><circle cx="79.4" cy="61.9" r="0.5"/><circle cx="83.5" cy="77.7" r="0.5"/><circle cx="81.1" cy="53.7" r="0.5"/><circle cx="92.9" cy="105.2" r="0.5"/><circle cx="92.1" cy="89.7" r="0.5"/><circle cx="46.6" cy="64.5" r="0.5"/><circle cx="50.7" cy="51.9" r="0.5"/><circle cx="48.2" cy="58.4" r="0.5"/><circle cx="60.4" cy="49.8" r="0.5"/><circle cx="39.2" cy="91.7" r="0.5"/><circle cx="69.8" cy="49.6" r="0.5"/><circle cx="96.0" cy="69.8" r="0.5"/><circle cx="61.3" cy="85.7" r="0.5"/><circle cx="79.1" cy="58.9" r="0.5"/><circle cx="52.7" cy="104.1" r="0.5"/><circle cx="64.9" cy="70.1" r="0.5"/><circle cx="43.4" cy="87.0" r="0.5"/><circle cx="56.0" cy="61.9" r="0.5"/><circle cx="75.4" cy="71.2" r="0.5"/><circle cx="59.8" cy="52.4" r="0.5"/><circle cx="79.5" cy="54.3" r="0.5"/><circle cx="51.1" cy="53.4" r="0.5"/><circle cx="53.9" cy="63.3" r="0.5"/><circle cx="87.3" cy="90.9" r="0.5"/><circle cx="53.3" cy="77.3" r="0.5"/><circle cx="52.9" cy="83.8" r="0.5"/><circle cx="47.0" cy="73.0" r="0.5"/><circle cx="80.6" cy="73.8" r="0.5"/><circle cx="83.8" cy="92.1" r="0.5"/><circle cx="93.2" cy="59.2" r="0.5"/><circle cx="50.9" cy="84.2" r="0.5"/><circle cx="69.2" cy="65.7" r="0.5"/><circle cx="78.5" cy="90.8" r="0.5"/><circle cx="45.3" cy="83.0" r="0.5"/><circle cx="76.6" cy="76.2" r="0.5"/><circle cx="59.2" cy="65.5" r="0.5"/><circle cx="55.7" cy="52.8" r="0.5"/><circle cx="42.0" cy="49.7" r="0.5"/><circle cx="98.3" cy="62.6" r="0.5"/><circle cx="61.9" cy="69.4" r="0.5"/><circle cx="87.4" cy="95.1" r="0.5"/><circle cx="76.3" cy="102.6" r="0.5"/><circle cx="77.2" cy="67.3" r="0.5"/><circle cx="62.8" cy="92.4" r="0.5"/><circle cx="49.7" cy="66.0" r="0.5"/><circle cx="95.6" cy="89.3" r="0.5"/><circle cx="75.5" cy="91.6" r="0.5"/><circle cx="71.7" cy="79.4" r="0.5"/><circle cx="94.5" cy="58.3" r="0.5"/><circle cx="53.8" cy="58.2" r="0.5"/><circle cx="97.9" cy="89.9" r="0.5"/><circle cx="83.1" cy="51.6" r="0.5"/><circle cx="95.6" cy="85.8" r="0.5"/><circle cx="44.9" cy="74.1" r="0.5"/><circle cx="84.9" cy="74.0" r="0.5"/><circle cx="50.4" cy="92.4" r="0.5"/><circle cx="43.4" cy="100.0" r="0.5"/><circle cx="55.8" cy="85.5" r="0.5"/><circle cx="94.2" cy="72.3" r="0.5"/><circle cx="61.0" cy="60.8" r="0.5"/><circle cx="51.5" cy="66.1" r="0.5"/><circle cx="62.2" cy="88.6" r="0.5"/><circle cx="82.3" cy="82.2" r="0.5"/><circle cx="46.7" cy="71.1" r="0.5"/><circle cx="69.3" cy="75.0" r="0.5"/><circle cx="68.5" cy="98.8" r="0.5"/><circle cx="44.5" cy="55.2" r="0.5"/><circle cx="96.0" cy="98.0" r="0.5"/><circle cx="61.1" cy="105.7" r="0.5"/><circle cx="67.2" cy="65.4" r="0.5"/><circle cx="50.9" cy="75.6" r="0.5"/><circle cx="101.5" cy="96.1" r="0.5"/><circle cx="46.5" cy="80.8" r="0.5"/><circle cx="66.7" cy="65.3" r="0.5"/><circle cx="65.4" cy="76.0" r="0.5"/><circle cx="38.6" cy="73.9" r="0.5"/><circle cx="48.5" cy="72.1" r="0.5"/><circle cx="46.0" cy="81.2" r="0.5"/><circle cx="45.0" cy="77.4" r="0.5"/><circle cx="76.9" cy="62.3" r="0.5"/><circle cx="66.7" cy="73.6" r="0.5"/><circle cx="67.0" cy="84.8" r="0.5"/><circle cx="71.8" cy="103.2" r="0.5"/><circle cx="54.3" cy="51.1" r="0.5"/><circle cx="58.3" cy="47.7" r="0.5"/><circle cx="52.9" cy="74.8" r="0.5"/><circle cx="80.6" cy="59.6" r="0.5"/><circle cx="91.2" cy="59.6" r="0.5"/><circle cx="94.5" cy="72.3" r="0.5"/><circle cx="92.7" cy="80.3" r="0.5"/><circle cx="92.2" cy="84.5" r="0.5"/><circle cx="91.2" cy="71.9" r="0.5"/><circle cx="73.5" cy="93.5" r="0.5"/><circle cx="53.0" cy="58.1" r="0.5"/><circle cx="87.8" cy="75.0" r="0.5"/><circle cx="52.0" cy="59.5" r="0.5"/><circle cx="72.8" cy="69.4" r="0.5"/><circle cx="96.2" cy="64.6" r="0.5"/><circle cx="51.0" cy="97.3" r="0.5"/><circle cx="56.9" cy="99.4" r="0.5"/><circle cx="86.6" cy="67.5" r="0.5"/><circle cx="45.5" cy="78.8" r="0.5"/><circle cx="45.1" cy="89.0" r="0.5"/><circle cx="67.6" cy="64.3" r="0.5"/><circle cx="65.3" cy="71.9" r="0.5"/><circle cx="95.1" cy="64.2" r="0.5"/><circle cx="50.1" cy="89.0" r="0.5"/><circle cx="65.5" cy="71.0" r="0.5"/><circle cx="75.2" cy="101.0" r="0.5"/><circle cx="51.3" cy="75.8" r="0.5"/><circle cx="65.1" cy="62.2" r="0.5"/><circle cx="71.5" cy="95.7" r="0.5"/><circle cx="96.2" cy="98.4" r="0.5"/><circle cx="75.7" cy="101.0" r="0.5"/><circle cx="66.1" cy="77.0" r="0.5"/><circle cx="88.6" cy="77.5" r="0.5"/><circle cx="66.6" cy="78.8" r="0.5"/><circle cx="60.5" cy="64.9" r="0.5"/><circle cx="55.7" cy="65.4" r="0.5"/><circle cx="51.2" cy="59.7" r="0.5"/><circle cx="44.8" cy="75.3" r="0.5"/><circle cx="78.2" cy="86.1" r="0.5"/><circle cx="65.9" cy="82.8" r="0.5"/><circle cx="93.8" cy="57.5" r="0.5"/><circle cx="97.0" cy="94.6" r="0.5"/><circle cx="48.4" cy="55.8" r="0.5"/><circle cx="48.1" cy="99.6" r="0.5"/><circle cx="85.4" cy="100.5" r="0.5"/><circle cx="70.6" cy="75.8" r="0.5"/><circle cx="96.6" cy="93.4" r="0.5"/><circle cx="77.4" cy="56.9" r="0.5"/><circle cx="84.0" cy="58.0" r="0.5"/><circle cx="79.6" cy="89.3" r="0.5"/><circle cx="63.8" cy="70.0" r="0.5"/><circle cx="72.2" cy="90.8" r="0.5"/><circle cx="50.6" cy="67.0" r="0.5"/><circle cx="85.9" cy="79.8" r="0.5"/><circle cx="80.4" cy="59.0" r="0.5"/><circle cx="99.3" cy="67.4" r="0.5"/><circle cx="91.3" cy="100.5" r="0.5"/><circle cx="40.5" cy="74.6" r="0.5"/><circle cx="81.5" cy="83.0" r="0.5"/><circle cx="66.6" cy="102.3" r="0.5"/><circle cx="63.3" cy="57.0" r="0.5"/><circle cx="46.8" cy="91.3" r="0.5"/><circle cx="62.2" cy="93.9" r="0.5"/><circle cx="45.1" cy="94.8" r="0.5"/><circle cx="82.2" cy="89.9" r="0.5"/><circle cx="51.0" cy="91.2" r="0.5"/><circle cx="69.5" cy="92.8" r="0.5"/><circle cx="52.3" cy="75.9" r="0.5"/><circle cx="88.4" cy="97.0" r="0.5"/><circle cx="39.6" cy="66.1" r="0.5"/><circle cx="73.7" cy="81.2" r="0.5"/><circle cx="57.3" cy="50.3" r="0.5"/><circle cx="59.7" cy="52.6" r="0.5"/><circle cx="82.4" cy="97.3" r="0.5"/><circle cx="96.4" cy="101.5" r="0.5"/><circle cx="96.0" cy="98.1" r="0.5"/><circle cx="50.0" cy="78.4" r="0.5"/><circle cx="49.4" cy="63.8" r="0.5"/><circle cx="68.8" cy="70.2" r="0.5"/><circle cx="48.8" cy="63.7" r="0.5"/><circle cx="89.9" cy="68.2" r="0.5"/><circle cx="72.9" cy="60.0" r="0.5"/><circle cx="97.7" cy="65.3" r="0.5"/><circle cx="95.6" cy="100.0" r="0.5"/><circle cx="60.1" cy="104.8" r="0.5"/><circle cx="63.8" cy="93.7" r="0.5"/><circle cx="46.2" cy="69.8" r="0.5"/><circle cx="52.2" cy="94.9" r="0.5"/><circle cx="69.6" cy="98.8" r="0.5"/><circle cx="66.8" cy="58.5" r="0.5"/><circle cx="95.8" cy="61.8" r="0.5"/><circle cx="102.6" cy="61.0" r="0.5"/><circle cx="66.2" cy="93.4" r="0.5"/><circle cx="99.5" cy="81.2" r="0.5"/><circle cx="90.8" cy="82.9" r="0.5"/><circle cx="93.3" cy="82.0" r="0.5"/><circle cx="42.7" cy="71.0" r="0.5"/><circle cx="68.3" cy="59.8" r="0.5"/><circle cx="88.2" cy="102.1" r="0.5"/><circle cx="98.1" cy="63.2" r="0.5"/><circle cx="100.1" cy="76.1" r="0.5"/><circle cx="83.0" cy="99.6" r="0.5"/><circle cx="79.1" cy="90.6" r="0.5"/><circle cx="47.2" cy="62.8" r="0.5"/><circle cx="46.3" cy="59.7" r="0.5"/><circle cx="101.7" cy="90.3" r="0.5"/><circle cx="64.2" cy="96.6" r="0.5"/><circle cx="87.0" cy="90.3" r="0.5"/><circle cx="62.8" cy="63.5" r="0.5"/><circle cx="43.8" cy="72.8" r="0.5"/><circle cx="90.4" cy="102.6" r="0.5"/><circle cx="66.4" cy="83.5" r="0.5"/><circle cx="79.4" cy="102.5" r="0.5"/><circle cx="74.9" cy="72.3" r="0.5"/><circle cx="49.9" cy="71.6" r="0.5"/><circle cx="53.5" cy="54.8" r="0.5"/><circle cx="73.1" cy="84.7" r="0.5"/><circle cx="66.6" cy="73.6" r="0.5"/><circle cx="41.4" cy="64.8" r="0.5"/><circle cx="50.5" cy="75.1" r="0.5"/><circle cx="60.6" cy="84.5" r="0.5"/><circle cx="85.0" cy="95.8" r="0.5"/><circle cx="80.0" cy="93.3" r="0.5"/><circle cx="94.1" cy="89.9" r="0.5"/><circle cx="99.0" cy="77.2" r="0.5"/><circle cx="71.6" cy="92.3" r="0.5"/><circle cx="87.0" cy="76.1" r="0.5"/><circle cx="56.0" cy="93.8" r="0.5"/><circle cx="55.2" cy="85.2" r="0.5"/><circle cx="66.4" cy="99.0" r="0.5"/><circle cx="82.9" cy="104.9" r="0.5"/><circle cx="71.4" cy="54.6" r="0.5"/><circle cx="54.6" cy="93.1" r="0.5"/><circle cx="78.5" cy="60.0" r="0.5"/><circle cx="63.2" cy="54.9" r="0.5"/><circle cx="85.2" cy="73.8" r="0.5"/><circle cx="82.7" cy="104.4" r="0.5"/><circle cx="62.8" cy="70.4" r="0.5"/><circle cx="47.9" cy="68.7" r="0.5"/><circle cx="49.4" cy="65.4" r="0.5"/><circle cx="59.8" cy="97.7" r="0.5"/><circle cx="95.2" cy="88.9" r="0.5"/><circle cx="78.6" cy="69.7" r="0.5"/><circle cx="59.1" cy="67.8" r="0.5"/><circle cx="79.5" cy="74.6" r="0.5"/><circle cx="74.1" cy="91.0" r="0.5"/><circle cx="51.1" cy="99.9" r="0.5"/><circle cx="103.1" cy="70.4" r="0.5"/><circle cx="64.2" cy="88.7" r="0.5"/><circle cx="83.4" cy="56.0" r="0.5"/><circle cx="76.8" cy="76.8" r="0.5"/><circle cx="82.4" cy="97.2" r="0.5"/><circle cx="61.7" cy="75.2" r="0.5"/><circle cx="94.7" cy="62.2" r="0.5"/><circle cx="62.5" cy="86.3" r="0.5"/><circle cx="85.3" cy="76.0" r="0.5"/><circle cx="45.2" cy="57.5" r="0.5"/><circle cx="50.0" cy="77.2" r="0.5"/><circle cx="82.9" cy="75.7" r="0.5"/><circle cx="67.7" cy="46.4" r="0.5"/><circle cx="88.8" cy="82.9" r="0.5"/><circle cx="54.0" cy="84.7" r="0.5"/><circle cx="71.0" cy="55.4" r="0.5"/><circle cx="69.1" cy="90.6" r="0.5"/><circle cx="75.3" cy="93.6" r="0.5"/><circle cx="63.2" cy="86.4" r="0.5"/><circle cx="56.7" cy="53.8" r="0.5"/><circle cx="66.7" cy="72.2" r="0.5"/><circle cx="89.6" cy="57.6" r="0.5"/><circle cx="86.3" cy="54.8" r="0.5"/><circle cx="58.2" cy="73.8" r="0.5"/><circle cx="96.3" cy="69.8" r="0.5"/><circle cx="62.1" cy="58.2" r="0.5"/><circle cx="71.1" cy="76.1" r="0.5"/><circle cx="76.0" cy="61.9" r="0.5"/><circle cx="74.5" cy="101.1" r="0.5"/><circle cx="69.5" cy="99.4" r="0.5"/><circle cx="51.3" cy="65.8" r="0.5"/><circle cx="42.5" cy="96.0" r="0.5"/><circle cx="60.9" cy="59.9" r="0.5"/><circle cx="80.3" cy="97.5" r="0.5"/><circle cx="89.5" cy="71.5" r="0.5"/><circle cx="82.2" cy="87.9" r="0.5"/><circle cx="62.1" cy="76.5" r="0.5"/><circle cx="45.8" cy="72.2" r="0.5"/><circle cx="88.0" cy="83.5" r="0.5"/><circle cx="48.3" cy="63.8" r="0.5"/><circle cx="70.3" cy="45.1" r="0.5"/><circle cx="56.8" cy="74.0" r="0.5"/><circle cx="99.1" cy="88.2" r="0.5"/><circle cx="101.0" cy="103.5" r="0.5"/><circle cx="92.0" cy="98.3" r="0.5"/><circle cx="99.7" cy="86.2" r="0.5"/><circle cx="99.8" cy="94.7" r="0.5"/><circle cx="59.4" cy="75.5" r="0.5"/><circle cx="94.2" cy="62.0" r="0.5"/><circle cx="75.9" cy="87.5" r="0.5"/><circle cx="61.7" cy="47.5" r="0.5"/><circle cx="63.0" cy="87.9" r="0.5"/><circle cx="82.9" cy="59.7" r="0.5"/><circle cx="50.6" cy="66.1" r="0.5"/><circle cx="58.2" cy="94.4" r="0.5"/><circle cx="67.1" cy="63.6" r="0.5"/><circle cx="95.4" cy="78.7" r="0.5"/><circle cx="70.2" cy="48.3" r="0.5"/><circle cx="46.9" cy="61.4" r="0.5"/><circle cx="98.5" cy="71.9" r="0.5"/><circle cx="45.9" cy="57.1" r="0.5"/><circle cx="89.8" cy="78.2" r="0.5"/><circle cx="90.5" cy="66.8" r="0.5"/><circle cx="73.2" cy="64.7" r="0.5"/><circle cx="66.3" cy="91.8" r="0.5"/><circle cx="93.6" cy="94.9" r="0.5"/><circle cx="53.6" cy="75.1" r="0.5"/><circle cx="55.3" cy="103.5" r="0.5"/><circle cx="52.8" cy="67.0" r="0.5"/><circle cx="45.5" cy="61.8" r="0.5"/><circle cx="79.3" cy="78.4" r="0.5"/><circle cx="89.3" cy="68.8" r="0.5"/><circle cx="99.7" cy="75.0" r="0.5"/><circle cx="60.2" cy="94.8" r="0.5"/><circle cx="52.1" cy="62.0" r="0.5"/><circle cx="46.8" cy="77.5" r="0.5"/><circle cx="42.2" cy="92.7" r="0.5"/><circle cx="58.5" cy="78.0" r="0.5"/><circle cx="83.6" cy="100.9" r="0.5"/><circle cx="83.3" cy="59.0" r="0.5"/><circle cx="82.1" cy="76.4" r="0.5"/><circle cx="64.4" cy="49.2" r="0.5"/><circle cx="87.2" cy="51.7" r="0.5"/><circle cx="80.2" cy="101.0" r="0.5"/><circle cx="91.5" cy="84.8" r="0.5"/><circle cx="86.8" cy="60.3" r="0.5"/><circle cx="66.0" cy="64.3" r="0.5"/><circle cx="42.4" cy="68.4" r="0.5"/><circle cx="48.7" cy="98.6" r="0.5"/><circle cx="87.8" cy="82.4" r="0.5"/><circle cx="56.1" cy="52.9" r="0.5"/><circle cx="99.3" cy="63.2" r="0.5"/><circle cx="68.6" cy="77.9" r="0.5"/><circle cx="91.2" cy="66.6" r="0.5"/><circle cx="99.0" cy="75.7" r="0.5"/><circle cx="69.4" cy="52.8" r="0.5"/><circle cx="56.8" cy="63.3" r="0.5"/><circle cx="79.5" cy="99.5" r="0.5"/><circle cx="54.8" cy="52.3" r="0.5"/><circle cx="50.2" cy="89.7" r="0.5"/><circle cx="68.6" cy="48.9" r="0.5"/><circle cx="94.6" cy="90.3" r="0.5"/><circle cx="66.8" cy="52.3" r="0.5"/><circle cx="54.8" cy="78.0" r="0.5"/><circle cx="76.9" cy="63.0" r="0.5"/><circle cx="42.8" cy="75.7" r="0.5"/><circle cx="39.7" cy="71.7" r="0.5"/><circle cx="86.4" cy="99.0" r="0.5"/><circle cx="76.2" cy="67.5" r="0.5"/><circle cx="66.8" cy="65.7" r="0.5"/><circle cx="54.0" cy="52.6" r="0.5"/><circle cx="53.6" cy="62.5" r="0.5"/><circle cx="98.9" cy="96.2" r="0.5"/><circle cx="81.4" cy="92.4" r="0.5"/><circle cx="61.6" cy="78.5" r="0.5"/><circle cx="88.0" cy="55.8" r="0.5"/></g>
<polygon points="42,101 48,97 58,97 68,99 76,102 68,105 58,107 55,112 54,120 56,126 48,124 42,116" fill="#5a86c4" opacity="0.9" filter="url(#blur1)"/>
<polygon points="56,98 75,99 90,104 93,110 78,111 62,108" fill="#6a8fc0" opacity="0.55" filter="url(#blur1)"/>
<g fill="#5a86c4" opacity="0.6"><circle cx="94.3" cy="111.1" r="0.5"/><circle cx="89.9" cy="112.2" r="0.5"/><circle cx="97.0" cy="111.4" r="0.5"/><circle cx="70.0" cy="100.3" r="0.5"/><circle cx="55.8" cy="97.4" r="0.5"/><circle cx="67.3" cy="100.5" r="0.5"/><circle cx="57.1" cy="96.7" r="0.5"/><circle cx="69.6" cy="104.0" r="0.5"/><circle cx="80.2" cy="103.4" r="0.5"/><circle cx="61.0" cy="104.6" r="0.5"/><circle cx="76.9" cy="109.7" r="0.5"/><circle cx="53.5" cy="92.1" r="0.5"/><circle cx="62.2" cy="97.1" r="0.5"/><circle cx="78.0" cy="112.6" r="0.5"/><circle cx="77.5" cy="99.3" r="0.5"/><circle cx="68.5" cy="100.7" r="0.5"/><circle cx="83.7" cy="102.4" r="0.5"/><circle cx="61.3" cy="101.0" r="0.5"/><circle cx="65.3" cy="97.6" r="0.5"/><circle cx="60.6" cy="103.5" r="0.5"/><circle cx="55.1" cy="95.8" r="0.5"/><circle cx="78.2" cy="100.1" r="0.5"/><circle cx="93.9" cy="109.4" r="0.5"/><circle cx="82.7" cy="103.9" r="0.5"/><circle cx="63.4" cy="97.8" r="0.5"/><circle cx="79.8" cy="105.9" r="0.5"/><circle cx="89.8" cy="106.5" r="0.5"/><circle cx="72.6" cy="99.4" r="0.5"/><circle cx="88.5" cy="110.1" r="0.5"/><circle cx="80.0" cy="102.8" r="0.5"/><circle cx="64.3" cy="105.1" r="0.5"/><circle cx="89.6" cy="103.7" r="0.5"/><circle cx="67.4" cy="99.1" r="0.5"/><circle cx="91.6" cy="113.5" r="0.5"/><circle cx="59.8" cy="106.5" r="0.5"/><circle cx="90.2" cy="108.8" r="0.5"/><circle cx="79.5" cy="104.5" r="0.5"/><circle cx="57.0" cy="97.2" r="0.5"/><circle cx="73.6" cy="103.4" r="0.5"/><circle cx="84.8" cy="112.1" r="0.5"/><circle cx="68.5" cy="109.2" r="0.5"/><circle cx="57.2" cy="102.0" r="0.5"/><circle cx="90.8" cy="106.0" r="0.5"/><circle cx="66.9" cy="106.3" r="0.5"/><circle cx="74.9" cy="111.9" r="0.5"/><circle cx="56.9" cy="97.4" r="0.5"/><circle cx="64.3" cy="97.4" r="0.5"/><circle cx="80.1" cy="100.7" r="0.5"/><circle cx="59.0" cy="100.2" r="0.5"/><circle cx="71.9" cy="99.9" r="0.5"/><circle cx="90.1" cy="110.5" r="0.5"/><circle cx="64.3" cy="101.7" r="0.5"/><circle cx="92.0" cy="110.3" r="0.5"/><circle cx="87.5" cy="111.3" r="0.5"/><circle cx="59.6" cy="104.4" r="0.5"/><circle cx="74.2" cy="105.8" r="0.5"/><circle cx="55.6" cy="95.5" r="0.5"/><circle cx="81.1" cy="105.8" r="0.5"/><circle cx="51.0" cy="96.8" r="0.5"/><circle cx="59.1" cy="104.5" r="0.5"/><circle cx="85.6" cy="101.6" r="0.5"/><circle cx="57.2" cy="100.0" r="0.5"/><circle cx="74.5" cy="100.3" r="0.5"/><circle cx="60.3" cy="111.2" r="0.5"/><circle cx="60.5" cy="102.9" r="0.5"/><circle cx="62.1" cy="101.5" r="0.5"/><circle cx="71.6" cy="97.2" r="0.5"/><circle cx="58.0" cy="101.3" r="0.5"/><circle cx="70.7" cy="109.8" r="0.5"/><circle cx="63.6" cy="105.5" r="0.5"/><circle cx="72.6" cy="108.0" r="0.5"/><circle cx="57.9" cy="98.3" r="0.5"/><circle cx="70.9" cy="102.4" r="0.5"/><circle cx="74.9" cy="98.1" r="0.5"/><circle cx="72.2" cy="100.4" r="0.5"/><circle cx="75.9" cy="97.6" r="0.5"/><circle cx="74.3" cy="108.2" r="0.5"/><circle cx="83.2" cy="109.3" r="0.5"/><circle cx="89.9" cy="104.8" r="0.5"/><circle cx="63.3" cy="98.4" r="0.5"/><circle cx="71.6" cy="108.0" r="0.5"/><circle cx="90.1" cy="110.6" r="0.5"/><circle cx="87.6" cy="104.7" r="0.5"/><circle cx="61.9" cy="107.7" r="0.5"/><circle cx="89.7" cy="110.7" r="0.5"/><circle cx="60.8" cy="100.8" r="0.5"/><circle cx="65.5" cy="102.0" r="0.5"/><circle cx="63.9" cy="101.2" r="0.5"/><circle cx="67.3" cy="112.7" r="0.5"/><circle cx="66.9" cy="105.4" r="0.5"/><circle cx="82.9" cy="109.9" r="0.5"/><circle cx="75.0" cy="110.3" r="0.5"/><circle cx="92.5" cy="105.7" r="0.5"/><circle cx="78.3" cy="104.7" r="0.5"/><circle cx="59.9" cy="94.5" r="0.5"/><circle cx="65.8" cy="107.1" r="0.5"/><circle cx="79.8" cy="107.7" r="0.5"/><circle cx="57.3" cy="104.1" r="0.5"/><circle cx="75.7" cy="102.4" r="0.5"/><circle cx="67.5" cy="104.9" r="0.5"/><circle cx="68.4" cy="107.3" r="0.5"/><circle cx="70.9" cy="107.3" r="0.5"/><circle cx="60.0" cy="103.2" r="0.5"/><circle cx="66.0" cy="103.4" r="0.5"/><circle cx="72.7" cy="104.8" r="0.5"/><circle cx="77.4" cy="108.6" r="0.5"/><circle cx="73.0" cy="106.7" r="0.5"/><circle cx="85.4" cy="106.7" r="0.5"/><circle cx="92.5" cy="112.5" r="0.5"/><circle cx="60.9" cy="99.5" r="0.5"/><circle cx="89.4" cy="107.2" r="0.5"/><circle cx="82.1" cy="105.3" r="0.5"/><circle cx="59.4" cy="100.1" r="0.5"/><circle cx="89.6" cy="106.3" r="0.5"/><circle cx="90.5" cy="106.2" r="0.5"/><circle cx="76.1" cy="113.8" r="0.5"/><circle cx="82.4" cy="106.9" r="0.5"/><circle cx="79.5" cy="108.4" r="0.5"/><circle cx="74.2" cy="106.5" r="0.5"/><circle cx="57.9" cy="96.7" r="0.5"/><circle cx="86.7" cy="108.1" r="0.5"/><circle cx="92.0" cy="114.5" r="0.5"/><circle cx="58.7" cy="109.1" r="0.5"/><circle cx="72.1" cy="108.1" r="0.5"/><circle cx="76.2" cy="106.3" r="0.5"/><circle cx="90.5" cy="107.5" r="0.5"/><circle cx="68.7" cy="104.0" r="0.5"/><circle cx="58.5" cy="100.1" r="0.5"/><circle cx="76.6" cy="106.3" r="0.5"/><circle cx="73.0" cy="100.9" r="0.5"/><circle cx="84.5" cy="106.5" r="0.5"/><circle cx="75.7" cy="104.3" r="0.5"/><circle cx="84.8" cy="101.9" r="0.5"/><circle cx="83.7" cy="109.8" r="0.5"/><circle cx="73.5" cy="101.0" r="0.5"/><circle cx="66.0" cy="98.0" r="0.5"/><circle cx="78.3" cy="109.6" r="0.5"/><circle cx="69.7" cy="104.8" r="0.5"/><circle cx="83.4" cy="101.7" r="0.5"/><circle cx="92.8" cy="109.4" r="0.5"/><circle cx="79.8" cy="110.1" r="0.5"/><circle cx="74.3" cy="101.4" r="0.5"/><circle cx="90.5" cy="109.4" r="0.5"/><circle cx="66.8" cy="109.1" r="0.5"/><circle cx="73.5" cy="99.7" r="0.5"/><circle cx="71.6" cy="109.9" r="0.5"/><circle cx="91.2" cy="103.4" r="0.5"/><circle cx="85.7" cy="103.6" r="0.5"/><circle cx="88.7" cy="114.3" r="0.5"/><circle cx="94.5" cy="110.3" r="0.5"/><circle cx="86.8" cy="106.3" r="0.5"/><circle cx="72.3" cy="99.1" r="0.5"/><circle cx="78.7" cy="104.7" r="0.5"/><circle cx="69.7" cy="94.8" r="0.5"/><circle cx="60.7" cy="101.1" r="0.5"/><circle cx="80.0" cy="113.5" r="0.5"/><circle cx="69.0" cy="106.8" r="0.5"/><circle cx="59.6" cy="106.1" r="0.5"/><circle cx="57.5" cy="99.8" r="0.5"/><circle cx="58.7" cy="109.5" r="0.5"/><circle cx="59.0" cy="102.3" r="0.5"/><circle cx="56.3" cy="100.8" r="0.5"/><circle cx="59.0" cy="98.8" r="0.5"/><circle cx="71.9" cy="106.7" r="0.5"/><circle cx="71.1" cy="105.1" r="0.5"/><circle cx="67.6" cy="101.2" r="0.5"/><circle cx="73.9" cy="107.5" r="0.5"/><circle cx="76.6" cy="106.6" r="0.5"/><circle cx="69.8" cy="109.2" r="0.5"/><circle cx="72.0" cy="107.1" r="0.5"/><circle cx="80.0" cy="111.2" r="0.5"/><circle cx="87.4" cy="107.0" r="0.5"/><circle cx="87.9" cy="107.7" r="0.5"/><circle cx="68.1" cy="107.0" r="0.5"/><circle cx="65.2" cy="108.1" r="0.5"/><circle cx="78.5" cy="100.4" r="0.5"/><circle cx="89.4" cy="107.9" r="0.5"/><circle cx="65.6" cy="108.9" r="0.5"/><circle cx="72.9" cy="102.7" r="0.5"/><circle cx="75.9" cy="99.2" r="0.5"/><circle cx="68.3" cy="98.2" r="0.5"/><circle cx="61.6" cy="97.7" r="0.5"/><circle cx="83.1" cy="111.4" r="0.5"/><circle cx="89.0" cy="101.4" r="0.5"/><circle cx="71.8" cy="109.3" r="0.5"/><circle cx="81.9" cy="111.2" r="0.5"/><circle cx="78.9" cy="101.0" r="0.5"/><circle cx="81.9" cy="111.4" r="0.5"/><circle cx="63.1" cy="102.5" r="0.5"/><circle cx="62.4" cy="96.5" r="0.5"/><circle cx="62.2" cy="106.6" r="0.5"/><circle cx="66.1" cy="100.0" r="0.5"/><circle cx="84.0" cy="104.7" r="0.5"/><circle cx="75.0" cy="107.7" r="0.5"/><circle cx="68.6" cy="103.8" r="0.5"/><circle cx="60.6" cy="104.6" r="0.5"/><circle cx="51.9" cy="94.9" r="0.5"/><circle cx="71.9" cy="108.3" r="0.5"/><circle cx="64.0" cy="94.2" r="0.5"/><circle cx="87.2" cy="110.2" r="0.5"/><circle cx="76.4" cy="111.8" r="0.5"/><circle cx="68.9" cy="101.1" r="0.5"/><circle cx="62.3" cy="103.1" r="0.5"/><circle cx="83.7" cy="101.2" r="0.5"/><circle cx="80.1" cy="110.5" r="0.5"/><circle cx="57.3" cy="97.1" r="0.5"/><circle cx="72.0" cy="105.5" r="0.5"/><circle cx="85.0" cy="101.7" r="0.5"/><circle cx="74.5" cy="97.8" r="0.5"/><circle cx="83.6" cy="102.8" r="0.5"/><circle cx="69.6" cy="100.1" r="0.5"/><circle cx="61.1" cy="106.2" r="0.5"/><circle cx="73.0" cy="98.8" r="0.5"/><circle cx="87.6" cy="101.7" r="0.5"/><circle cx="59.3" cy="101.0" r="0.5"/><circle cx="87.4" cy="98.5" r="0.5"/><circle cx="91.8" cy="107.6" r="0.5"/><circle cx="69.0" cy="101.6" r="0.5"/><circle cx="83.5" cy="114.5" r="0.5"/><circle cx="67.9" cy="108.2" r="0.5"/><circle cx="92.7" cy="109.9" r="0.5"/><circle cx="59.7" cy="102.9" r="0.5"/><circle cx="81.7" cy="109.1" r="0.5"/><circle cx="88.4" cy="104.5" r="0.5"/><circle cx="90.4" cy="103.4" r="0.5"/><circle cx="83.3" cy="100.9" r="0.5"/><circle cx="60.4" cy="108.5" r="0.5"/><circle cx="76.0" cy="102.0" r="0.5"/><circle cx="87.5" cy="104.5" r="0.5"/><circle cx="69.6" cy="105.9" r="0.5"/><circle cx="74.4" cy="110.6" r="0.5"/><circle cx="59.7" cy="103.7" r="0.5"/><circle cx="85.4" cy="106.9" r="0.5"/><circle cx="67.1" cy="109.8" r="0.5"/><circle cx="58.9" cy="98.4" r="0.5"/><circle cx="61.5" cy="98.7" r="0.5"/><circle cx="69.6" cy="110.5" r="0.5"/><circle cx="93.2" cy="109.6" r="0.5"/><circle cx="71.6" cy="109.8" r="0.5"/><circle cx="71.5" cy="103.5" r="0.5"/><circle cx="72.7" cy="98.1" r="0.5"/><circle cx="73.8" cy="100.0" r="0.5"/><circle cx="79.0" cy="111.2" r="0.5"/><circle cx="76.3" cy="98.4" r="0.5"/><circle cx="77.9" cy="97.0" r="0.5"/><circle cx="87.0" cy="106.4" r="0.5"/><circle cx="61.2" cy="99.0" r="0.5"/><circle cx="85.5" cy="106.3" r="0.5"/><circle cx="71.9" cy="96.5" r="0.5"/><circle cx="93.0" cy="111.1" r="0.5"/><circle cx="63.2" cy="103.0" r="0.5"/><circle cx="82.8" cy="108.2" r="0.5"/><circle cx="86.3" cy="101.7" r="0.5"/></g>
<g fill="#5a86c4" opacity="0.7"><circle cx="66.4" cy="106.0" r="0.5"/><circle cx="38.6" cy="103.1" r="0.5"/><circle cx="75.7" cy="97.0" r="0.5"/><circle cx="59.1" cy="124.1" r="0.5"/><circle cx="54.4" cy="126.1" r="0.5"/><circle cx="67.5" cy="98.9" r="0.5"/><circle cx="71.6" cy="100.3" r="0.5"/><circle cx="72.0" cy="98.1" r="0.5"/><circle cx="43.5" cy="118.2" r="0.5"/><circle cx="58.5" cy="107.1" r="0.5"/><circle cx="48.5" cy="96.9" r="0.5"/><circle cx="37.6" cy="108.0" r="0.5"/><circle cx="40.5" cy="118.1" r="0.5"/><circle cx="59.8" cy="96.7" r="0.5"/><circle cx="40.6" cy="107.6" r="0.5"/><circle cx="45.3" cy="121.6" r="0.5"/><circle cx="63.1" cy="97.4" r="0.5"/><circle cx="55.9" cy="125.0" r="0.5"/><circle cx="74.0" cy="100.9" r="0.5"/><circle cx="44.5" cy="120.6" r="0.5"/><circle cx="56.8" cy="126.7" r="0.5"/><circle cx="45.7" cy="92.4" r="0.5"/><circle cx="67.1" cy="96.3" r="0.5"/><circle cx="64.0" cy="97.7" r="0.5"/><circle cx="56.7" cy="121.1" r="0.5"/><circle cx="52.0" cy="96.6" r="0.5"/><circle cx="55.1" cy="116.9" r="0.5"/></g>
<polygon points="53.5,112 56,107.5 62,106 72,106 80,108 90,114 99,122 104,129 105,137 101,143 94,145 84,143 72,138 62,133 55,128 53,120" fill="#e3a62c" opacity="1" filter="url(#blur1)"/>
<g fill="#e3a62c" opacity="0.7"><circle cx="72.2" cy="105.6" r="0.5"/><circle cx="93.1" cy="144.8" r="0.5"/><circle cx="106.0" cy="136.8" r="0.5"/><circle cx="53.5" cy="122.2" r="0.5"/><circle cx="54.2" cy="124.8" r="0.5"/><circle cx="103.3" cy="141.6" r="0.5"/><circle cx="51.4" cy="126.3" r="0.5"/><circle cx="53.0" cy="123.6" r="0.5"/><circle cx="99.4" cy="144.1" r="0.5"/><circle cx="55.5" cy="130.1" r="0.5"/><circle cx="53.2" cy="110.5" r="0.5"/><circle cx="54.4" cy="131.7" r="0.5"/><circle cx="62.6" cy="105.5" r="0.5"/><circle cx="56.0" cy="129.4" r="0.5"/><circle cx="67.2" cy="105.1" r="0.5"/><circle cx="101.0" cy="123.6" r="0.5"/><circle cx="77.0" cy="106.1" r="0.5"/><circle cx="104.0" cy="127.3" r="0.5"/><circle cx="61.9" cy="105.7" r="0.5"/><circle cx="87.2" cy="145.4" r="0.5"/><circle cx="53.8" cy="131.0" r="0.5"/><circle cx="87.2" cy="145.2" r="0.5"/><circle cx="93.9" cy="146.4" r="0.5"/><circle cx="101.7" cy="143.5" r="0.5"/><circle cx="64.5" cy="135.2" r="0.5"/><circle cx="102.1" cy="125.8" r="0.5"/><circle cx="79.6" cy="103.4" r="0.5"/><circle cx="95.6" cy="144.6" r="0.5"/><circle cx="104.6" cy="137.7" r="0.5"/><circle cx="84.3" cy="144.4" r="0.5"/><circle cx="62.5" cy="133.9" r="0.5"/><circle cx="85.9" cy="108.3" r="0.5"/><circle cx="80.1" cy="143.0" r="0.5"/><circle cx="52.3" cy="118.3" r="0.5"/><circle cx="51.7" cy="112.9" r="0.5"/><circle cx="66.0" cy="135.4" r="0.5"/><circle cx="66.1" cy="103.3" r="0.5"/><circle cx="106.5" cy="136.7" r="0.5"/><circle cx="88.9" cy="108.9" r="0.5"/><circle cx="55.4" cy="106.3" r="0.5"/><circle cx="54.1" cy="127.6" r="0.5"/><circle cx="101.0" cy="143.5" r="0.5"/><circle cx="73.1" cy="141.4" r="0.5"/><circle cx="101.5" cy="143.1" r="0.5"/><circle cx="74.2" cy="103.3" r="0.5"/></g>
<g fill="#cf900f" opacity="0.45"><circle cx="92.9" cy="133.5" r="0.55"/><circle cx="87.7" cy="138.4" r="0.55"/><circle cx="64.3" cy="123.6" r="0.55"/><circle cx="77.5" cy="113.1" r="0.55"/><circle cx="75.3" cy="108.8" r="0.55"/><circle cx="59.5" cy="111.2" r="0.55"/><circle cx="84.7" cy="124.6" r="0.55"/><circle cx="75.1" cy="124.6" r="0.55"/><circle cx="91.5" cy="127.2" r="0.55"/><circle cx="99.7" cy="138.2" r="0.55"/><circle cx="85.1" cy="134.8" r="0.55"/><circle cx="64.7" cy="115.2" r="0.55"/><circle cx="73.5" cy="123.0" r="0.55"/><circle cx="75.7" cy="117.9" r="0.55"/><circle cx="71.6" cy="125.1" r="0.55"/><circle cx="92.0" cy="136.6" r="0.55"/><circle cx="86.8" cy="131.6" r="0.55"/><circle cx="87.1" cy="129.5" r="0.55"/><circle cx="72.9" cy="120.3" r="0.55"/><circle cx="75.2" cy="131.4" r="0.55"/><circle cx="60.8" cy="120.1" r="0.55"/><circle cx="73.3" cy="126.8" r="0.55"/><circle cx="89.2" cy="121.0" r="0.55"/><circle cx="75.3" cy="110.9" r="0.55"/><circle cx="95.6" cy="123.9" r="0.55"/><circle cx="97.5" cy="130.1" r="0.55"/><circle cx="90.8" cy="134.8" r="0.55"/><circle cx="87.6" cy="131.2" r="0.55"/><circle cx="66.2" cy="121.4" r="0.55"/><circle cx="87.0" cy="124.1" r="0.55"/><circle cx="80.5" cy="135.9" r="0.55"/><circle cx="62.0" cy="111.3" r="0.55"/><circle cx="81.4" cy="121.7" r="0.55"/><circle cx="93.1" cy="134.4" r="0.55"/><circle cx="86.2" cy="120.3" r="0.55"/><circle cx="76.7" cy="131.6" r="0.55"/><circle cx="83.0" cy="110.3" r="0.55"/><circle cx="73.2" cy="115.2" r="0.55"/><circle cx="73.1" cy="114.8" r="0.55"/><circle cx="77.9" cy="127.3" r="0.55"/><circle cx="76.2" cy="126.9" r="0.55"/><circle cx="80.9" cy="124.5" r="0.55"/><circle cx="62.8" cy="121.4" r="0.55"/><circle cx="65.8" cy="127.8" r="0.55"/><circle cx="69.1" cy="120.4" r="0.55"/><circle cx="89.5" cy="125.3" r="0.55"/><circle cx="86.0" cy="118.0" r="0.55"/><circle cx="88.8" cy="124.2" r="0.55"/><circle cx="78.2" cy="125.3" r="0.55"/><circle cx="69.7" cy="130.9" r="0.55"/><circle cx="90.5" cy="131.5" r="0.55"/><circle cx="73.7" cy="132.4" r="0.55"/><circle cx="100.5" cy="137.6" r="0.55"/><circle cx="65.9" cy="125.5" r="0.55"/><circle cx="90.6" cy="138.6" r="0.55"/><circle cx="64.8" cy="110.2" r="0.55"/><circle cx="59.0" cy="108.2" r="0.55"/><circle cx="69.9" cy="116.6" r="0.55"/><circle cx="69.8" cy="109.9" r="0.55"/><circle cx="60.0" cy="107.1" r="0.55"/><circle cx="94.3" cy="133.4" r="0.55"/><circle cx="64.5" cy="123.3" r="0.55"/><circle cx="81.0" cy="130.8" r="0.55"/><circle cx="75.9" cy="128.1" r="0.55"/><circle cx="101.4" cy="128.8" r="0.55"/><circle cx="62.3" cy="127.3" r="0.55"/><circle cx="70.4" cy="127.9" r="0.55"/><circle cx="82.8" cy="113.0" r="0.55"/><circle cx="94.0" cy="123.0" r="0.55"/><circle cx="86.6" cy="121.0" r="0.55"/><circle cx="57.9" cy="110.4" r="0.55"/><circle cx="89.0" cy="123.7" r="0.55"/><circle cx="83.3" cy="129.6" r="0.55"/><circle cx="66.4" cy="122.4" r="0.55"/><circle cx="81.7" cy="116.3" r="0.55"/><circle cx="91.7" cy="130.9" r="0.55"/><circle cx="97.3" cy="138.8" r="0.55"/><circle cx="81.9" cy="119.8" r="0.55"/><circle cx="71.1" cy="117.1" r="0.55"/><circle cx="95.1" cy="122.2" r="0.55"/><circle cx="66.6" cy="111.5" r="0.55"/><circle cx="79.6" cy="134.5" r="0.55"/><circle cx="65.1" cy="119.8" r="0.55"/><circle cx="79.2" cy="112.8" r="0.55"/><circle cx="71.1" cy="129.0" r="0.55"/><circle cx="95.7" cy="128.1" r="0.55"/><circle cx="72.4" cy="129.6" r="0.55"/><circle cx="82.2" cy="121.1" r="0.55"/><circle cx="93.9" cy="121.7" r="0.55"/><circle cx="59.6" cy="109.2" r="0.55"/><circle cx="77.5" cy="120.3" r="0.55"/><circle cx="62.7" cy="127.2" r="0.55"/><circle cx="71.8" cy="130.0" r="0.55"/><circle cx="80.7" cy="127.3" r="0.55"/><circle cx="81.2" cy="114.0" r="0.55"/><circle cx="68.4" cy="125.2" r="0.55"/><circle cx="79.8" cy="135.6" r="0.55"/><circle cx="71.4" cy="116.9" r="0.55"/><circle cx="72.3" cy="112.9" r="0.55"/><circle cx="89.7" cy="125.4" r="0.55"/><circle cx="94.2" cy="127.1" r="0.55"/><circle cx="97.2" cy="134.6" r="0.55"/><circle cx="67.5" cy="119.7" r="0.55"/><circle cx="97.4" cy="131.8" r="0.55"/><circle cx="70.9" cy="117.3" r="0.55"/><circle cx="67.7" cy="117.4" r="0.55"/><circle cx="79.6" cy="125.0" r="0.55"/></g>
<g fill="#f3d9a0" opacity="0.5"><circle cx="99.0" cy="123.4" r="0.45"/><circle cx="82.1" cy="134.1" r="0.45"/><circle cx="95.3" cy="127.5" r="0.45"/><circle cx="86.3" cy="127.5" r="0.45"/><circle cx="90.7" cy="128.7" r="0.45"/><circle cx="91.2" cy="124.5" r="0.45"/><circle cx="101.4" cy="124.3" r="0.45"/><circle cx="91.7" cy="135.9" r="0.45"/><circle cx="80.7" cy="138.9" r="0.45"/><circle cx="82.2" cy="131.7" r="0.45"/><circle cx="88.7" cy="126.2" r="0.45"/><circle cx="87.4" cy="127.5" r="0.45"/><circle cx="87.2" cy="142.9" r="0.45"/><circle cx="101.4" cy="132.2" r="0.45"/><circle cx="95.0" cy="132.1" r="0.45"/><circle cx="89.5" cy="138.9" r="0.45"/><circle cx="101.9" cy="136.2" r="0.45"/><circle cx="96.3" cy="128.6" r="0.45"/><circle cx="95.5" cy="144.4" r="0.45"/><circle cx="84.5" cy="134.8" r="0.45"/><circle cx="95.2" cy="136.9" r="0.45"/><circle cx="102.7" cy="141.7" r="0.45"/><circle cx="104.8" cy="143.3" r="0.45"/><circle cx="90.5" cy="137.6" r="0.45"/><circle cx="100.5" cy="142.8" r="0.45"/><circle cx="86.4" cy="130.2" r="0.45"/><circle cx="90.9" cy="122.0" r="0.45"/><circle cx="88.9" cy="124.9" r="0.45"/><circle cx="81.0" cy="133.6" r="0.45"/><circle cx="105.2" cy="134.0" r="0.45"/><circle cx="89.6" cy="132.0" r="0.45"/><circle cx="94.2" cy="125.0" r="0.45"/><circle cx="87.9" cy="132.6" r="0.45"/><circle cx="93.6" cy="133.9" r="0.45"/><circle cx="83.4" cy="128.3" r="0.45"/><circle cx="84.6" cy="129.1" r="0.45"/><circle cx="86.8" cy="136.7" r="0.45"/><circle cx="91.5" cy="142.2" r="0.45"/><circle cx="101.9" cy="125.1" r="0.45"/><circle cx="80.0" cy="128.1" r="0.45"/><circle cx="104.8" cy="134.7" r="0.45"/><circle cx="87.5" cy="134.4" r="0.45"/><circle cx="103.5" cy="141.4" r="0.45"/><circle cx="99.7" cy="127.1" r="0.45"/><circle cx="99.2" cy="140.8" r="0.45"/><circle cx="92.6" cy="126.0" r="0.45"/><circle cx="93.7" cy="121.0" r="0.45"/><circle cx="93.8" cy="139.8" r="0.45"/><circle cx="81.2" cy="131.7" r="0.45"/><circle cx="101.8" cy="125.5" r="0.45"/><circle cx="85.1" cy="134.2" r="0.45"/><circle cx="86.2" cy="134.7" r="0.45"/><circle cx="94.5" cy="140.6" r="0.45"/><circle cx="100.6" cy="134.8" r="0.45"/><circle cx="87.8" cy="145.0" r="0.45"/><circle cx="83.2" cy="123.2" r="0.45"/><circle cx="80.9" cy="127.0" r="0.45"/><circle cx="91.6" cy="129.3" r="0.45"/><circle cx="89.0" cy="120.8" r="0.45"/><circle cx="103.2" cy="134.3" r="0.45"/><circle cx="86.4" cy="140.9" r="0.45"/><circle cx="96.7" cy="130.0" r="0.45"/><circle cx="104.6" cy="140.3" r="0.45"/><circle cx="102.9" cy="129.1" r="0.45"/><circle cx="93.4" cy="120.6" r="0.45"/><circle cx="91.4" cy="132.4" r="0.45"/><circle cx="89.4" cy="123.2" r="0.45"/><circle cx="94.6" cy="138.7" r="0.45"/><circle cx="85.5" cy="142.4" r="0.45"/></g>
<rect x="133.6" y="39.2" width="29.2" height="30.6" fill="#fff" fill-opacity="0.85" stroke="#ddd" stroke-width="0.5" rx="1"/>
<circle cx="138.9" cy="44.7" r="2.2" fill="#4c78b8"/>
<text x="143.2" y="47.6" font-size="8" font-weight="bold" font-style="normal" text-anchor="start" fill="#111" >Pep1</text>
<circle cx="138.9" cy="54.5" r="2.2" fill="#e0a030"/>
<text x="143.2" y="57.4" font-size="8" font-weight="bold" font-style="normal" text-anchor="start" fill="#111" >Pep2</text>
<circle cx="138.9" cy="64.30000000000001" r="2.2" fill="#5ea862"/>
<text x="143.2" y="67.20000000000002" font-size="8" font-weight="bold" font-style="normal" text-anchor="start" fill="#111" >Pep3</text>
<text x="209.5" y="12.6" font-size="16.5" font-weight="bold" font-style="normal" text-anchor="start" fill="#000" >b</text>
<line x1="230.5" y1="9" x2="230.5" y2="96.5" stroke="#222" stroke-width="1"/>
<line x1="230" y1="96.3" x2="327.8" y2="96.3" stroke="#222" stroke-width="1"/>
<text x="223.5" y="16" font-size="9.5" font-weight="normal" font-style="normal" text-anchor="start" fill="#222" >1</text>
<text x="223.7" y="102.4" font-size="9.5" font-weight="normal" font-style="normal" text-anchor="start" fill="#222" >0</text>
<text x="315.6" y="106" font-size="10" font-weight="normal" font-style="normal" text-anchor="start" fill="#222" >1000</text>
<text x="252.6" y="104.8" font-size="8" font-weight="bold" font-style="italic" fill="#222" textLength="44" lengthAdjust="spacingAndGlyphs">scaled time</text>
<text transform="translate(226.6,49.5) rotate(-90)" font-size="9.2" font-weight="bold" font-style="italic" fill="#222" text-anchor="middle">I/I<tspan font-size="5.5" dy="1.5">0</tspan></text>
<rect x="235.8" y="8.8" width="92.80000000000001" height="82.7" fill="#fff" stroke="#888" stroke-width="0.8"/>
<rect x="330.8" y="8.8" width="93.39999999999998" height="82.7" fill="#fff" stroke="#888" stroke-width="0.8"/>
<rect x="426.2" y="8.8" width="92.50000000000006" height="82.7" fill="#fff" stroke="#888" stroke-width="0.8"/>
<rect x="329" y="9" width="1.8" height="82.5" fill="#d6d6d6"/>
<rect x="424.4" y="9" width="1.8" height="82.5" fill="#d6d6d6"/>
<polygon points="236,60 260,62 300,64 328,58 328,64 310,72 290,75 250,75 244,71 236,69" fill="#3b71ad" opacity="0.18" filter="url(#blur3)"/>
<polygon points="240,66 260,68 290,70 320,64 320,72 290,76 250,76 240,72" fill="#3b71ad" opacity="0.25" filter="url(#blur2)"/>
<polygon points="236,62.3 242,62.3 247,65.8 242,69.3 236,69.3" fill="#3b71ad" opacity="0.95" filter="url(#blur09)"/>
<polygon points="241.5,74.3 260,74.6 285,74.9 300,74 312,72 320,69 328.5,63.5 328.5,70.5 320,75.5 310,78.8 295,81.1 275,81.7 255,81.5 245,81 241.5,78.5" fill="#3b71ad" opacity="0.95" filter="url(#blur09)"/>
<polygon points="244,64.5 270,67 300,68 328,61 328,66 300,73 270,73 244,70" fill="#3b71ad" opacity="0.28" filter="url(#blur2)"/>
<polygon points="326.8,53 328.7,53 328.7,66 326.8,66" fill="#3b71ad" opacity="0.8" filter="url(#blur09)"/>
<polygon points="331,61 360,62 400,62 424,57 424,64 410,70 380,71 340,71 331,68" fill="#dba026" opacity="0.14" filter="url(#blur3)"/>
<polygon points="331,60.9 337,60.9 341.5,64.4 337,67.9 331,67.9" fill="#dba026" opacity="0.95" filter="url(#blur09)"/>
<polygon points="333.5,71.5 360,71.8 400,71.8 412,70.3 418,65.8 424.3,60.8 424.3,74.7 420,77.7 410,79.7 380,80 350,80 336,79.3 333.5,76" fill="#dba026" opacity="0.95" filter="url(#blur09)"/>
<polygon points="422.8,55 424.3,55 424.3,66 422.8,66" fill="#dba026" opacity="0.7" filter="url(#blur09)"/>
<polygon points="430,52 470,55 518,55 518,72 460,72 430,66" fill="#5fa060" opacity="0.2" filter="url(#blur3)"/>
<polygon points="448,55 462,56 480,62 500,66 512,63 514,74 490,78 470,75 458,66" fill="#5fa060" opacity="0.45" filter="url(#blur3)"/>
<polygon points="426,63.2 440,63.2 440,68.3 426,68.3" fill="#5fa060" opacity="0.93" filter="url(#blur09)"/>
<polygon points="440,60 455,57 462,62 470,71 480,77 455,83 446,79 440,70" fill="#5fa060" opacity="0.72" filter="url(#blur2)"/>
<polygon points="429,55 434,52.3 447,52.6 455,55.5 458,60 454,65.2 440,65.2 431,62.5" fill="#5fa060" opacity="0.93" filter="url(#blur09)"/>
<polygon points="448,76.5 470,77.5 490,77.5 502,76.5 508,72 512,65.5 518.7,61.5 518.7,72 512,75.5 506,81 498,84.5 480,85.5 465,85 455,83.5 448,81" fill="#5fa060" opacity="0.92" filter="url(#blur1)"/>
<text x="283.90000000000003" y="20.4" font-size="10.4" font-weight="bold" font-style="normal" text-anchor="middle" fill="#111" textLength="22.3" lengthAdjust="spacingAndGlyphs">Pep1</text>
<text x="379.2" y="20.4" font-size="10.4" font-weight="bold" font-style="normal" text-anchor="middle" fill="#111" textLength="22.3" lengthAdjust="spacingAndGlyphs">Pep2</text>
<text x="474.15000000000003" y="20.4" font-size="10.4" font-weight="bold" font-style="normal" text-anchor="middle" fill="#111" textLength="22.3" lengthAdjust="spacingAndGlyphs">Pep3</text>
<line x1="230.5" y1="107" x2="230.5" y2="194.5" stroke="#222" stroke-width="1"/>
<line x1="230" y1="194.4" x2="327.8" y2="194.4" stroke="#222" stroke-width="1"/>
<text x="223.5" y="113.5" font-size="9.5" font-weight="normal" font-style="normal" text-anchor="start" fill="#222" >1</text>
<text x="223.7" y="200.5" font-size="9.5" font-weight="normal" font-style="normal" text-anchor="start" fill="#222" >0</text>
<text x="319.6" y="205" font-size="10" font-weight="normal" font-style="normal" text-anchor="start" fill="#222" >100</text>
<rect x="235.8" y="106.8" width="93.39999999999998" height="82.10000000000001" fill="#f4fbd4"/>
<rect x="331.2" y="106.8" width="93.69999999999999" height="82.10000000000001" fill="#f4fbd4"/>
<rect x="426.2" y="106.8" width="92.69999999999999" height="82.10000000000001" fill="#f4fbd4"/>
<text x="284.2" y="119.7" font-size="10.4" font-weight="bold" font-style="normal" text-anchor="middle" fill="#111" textLength="22.3" lengthAdjust="spacingAndGlyphs">Pep1</text>
<text x="379.74999999999994" y="119.7" font-size="10.4" font-weight="bold" font-style="normal" text-anchor="middle" fill="#111" textLength="22.3" lengthAdjust="spacingAndGlyphs">Pep2</text>
<text x="474.24999999999994" y="119.7" font-size="10.4" font-weight="bold" font-style="normal" text-anchor="middle" fill="#111" textLength="22.3" lengthAdjust="spacingAndGlyphs">Pep3</text>
<line x1="243.9" y1="163" x2="243.9" y2="174.5" stroke="#3aa3c3" stroke-width="2.3" opacity="0.8"/>
<line x1="243.9" y1="163" x2="243.9" y2="174.5" stroke="#1b2a6a" stroke-width="1.3"/>
<line x1="328.3" y1="150" x2="328.3" y2="164.5" stroke="#3aa3c3" stroke-width="2.2" opacity="0.8"/>
<line x1="328.3" y1="150" x2="328.3" y2="164.5" stroke="#1b2a6a" stroke-width="1.2"/>
<line x1="236.4" y1="145.5" x2="236.4" y2="148.5" stroke="#3aa3c3" stroke-width="2.0" opacity="0.8"/>
<line x1="236.4" y1="145.5" x2="236.4" y2="148.5" stroke="#1b2a6a" stroke-width="1.0"/>
<path d="M236,163.6 L240,163 L242.3,162 L243.6,163.2" stroke="#d2edb8" stroke-width="10.0" fill="none" stroke-linejoin="round" opacity="0.85" filter="url(#blur2)"/>
<path d="M236,163.6 L240,163 L242.3,162 L243.6,163.2" stroke="#4ab0c6" stroke-width="5.4" fill="none" stroke-linejoin="round" filter="url(#blur05)"/>
<path d="M236,163.6 L240,163 L242.3,162 L243.6,163.2" stroke="#17236a" stroke-width="3.0" fill="none" stroke-linejoin="round" filter="url(#blur05)"/>
<path d="M244.2,174.6 L250,174.6 L265,175.3 L280,176.3 L282,177.6 L284,176.5 L300,173.3 L306,171.8 L312,167.5 L316,165.5 L322,164.6 L328.6,163.8" stroke="#d2edb8" stroke-width="9.7" fill="none" stroke-linejoin="round" opacity="0.85" filter="url(#blur2)"/>
<path d="M244.2,174.6 L250,174.6 L265,175.3 L280,176.3 L282,177.6 L284,176.5 L300,173.3 L306,171.8 L312,167.5 L316,165.5 L322,164.6 L328.6,163.8" stroke="#4ab0c6" stroke-width="5.1" fill="none" stroke-linejoin="round" filter="url(#blur05)"/>
<path d="M244.2,174.6 L250,174.6 L265,175.3 L280,176.3 L282,177.6 L284,176.5 L300,173.3 L306,171.8 L312,167.5 L316,165.5 L322,164.6 L328.6,163.8" stroke="#17236a" stroke-width="2.7" fill="none" stroke-linejoin="round" filter="url(#blur05)"/>
<line x1="336.6" y1="161.8" x2="336.6" y2="171.5" stroke="#3aa3c3" stroke-width="2.3" opacity="0.8"/>
<line x1="336.6" y1="161.8" x2="336.6" y2="171.5" stroke="#1b2a6a" stroke-width="1.3"/>
<line x1="331.7" y1="144.5" x2="331.7" y2="147.5" stroke="#3aa3c3" stroke-width="2.0" opacity="0.8"/>
<line x1="331.7" y1="144.5" x2="331.7" y2="147.5" stroke="#1b2a6a" stroke-width="1.0"/>
<path d="M331.5,161.6 L336.4,161.4" stroke="#d2edb8" stroke-width="10.0" fill="none" stroke-linejoin="round" opacity="0.85" filter="url(#blur2)"/>
<path d="M331.5,161.6 L336.4,161.4" stroke="#4ab0c6" stroke-width="5.4" fill="none" stroke-linejoin="round" filter="url(#blur05)"/>
<path d="M331.5,161.6 L336.4,161.4" stroke="#17236a" stroke-width="3.0" fill="none" stroke-linejoin="round" filter="url(#blur05)"/>
<path d="M336.8,171.8 L350,172.2 L365,172.8 L380,173.8 L395,174.7 L405,173.5 L412,171 L416,169.5 L419,166.2 L424.7,163.8" stroke="#d2edb8" stroke-width="11.2" fill="none" stroke-linejoin="round" opacity="0.85" filter="url(#blur2)"/>
<path d="M336.8,171.8 L350,172.2 L365,172.8 L380,173.8 L395,174.7 L405,173.5 L412,171 L416,169.5 L419,166.2 L424.7,163.8" stroke="#4ab0c6" stroke-width="6.6" fill="none" stroke-linejoin="round" filter="url(#blur05)"/>
<path d="M336.8,171.8 L350,172.2 L365,172.8 L380,173.8 L395,174.7 L405,173.5 L412,171 L416,169.5 L419,166.2 L424.7,163.8" stroke="#17236a" stroke-width="4.2" fill="none" stroke-linejoin="round" filter="url(#blur05)"/>
<line x1="426.7" y1="145" x2="426.7" y2="148.5" stroke="#3aa3c3" stroke-width="2.0" opacity="0.8"/>
<line x1="426.7" y1="145" x2="426.7" y2="148.5" stroke="#1b2a6a" stroke-width="1.0"/>
<path d="M426.5,163.6 L435.8,163.4" stroke="#d2edb8" stroke-width="10.2" fill="none" stroke-linejoin="round" opacity="0.85" filter="url(#blur2)"/>
<path d="M426.5,163.6 L435.8,163.4" stroke="#4ab0c6" stroke-width="5.6" fill="none" stroke-linejoin="round" filter="url(#blur05)"/>
<path d="M426.5,163.6 L435.8,163.4" stroke="#17236a" stroke-width="3.2" fill="none" stroke-linejoin="round" filter="url(#blur05)"/>
<rect x="436.5" y="151" width="7" height="3" fill="#7fb8d8" opacity="0.6" filter="url(#blur05)"/>
<path d="M436.3,154.8 L443.7,154.8" stroke="#d2edb8" stroke-width="9.6" fill="none" stroke-linejoin="round" opacity="0.85" filter="url(#blur2)"/>
<path d="M436.3,154.8 L443.7,154.8" stroke="#4ab0c6" stroke-width="5.0" fill="none" stroke-linejoin="round" filter="url(#blur05)"/>
<path d="M436.3,154.8 L443.7,154.8" stroke="#22398a" stroke-width="2.6" fill="none" stroke-linejoin="round" filter="url(#blur05)"/>
<path d="M444.3,156 L445.2,171 M446.8,158 L448.2,175 M449.5,166 L450.3,177" stroke="#3f8fbf" stroke-width="1.1" fill="none" opacity="0.8"/>
<path d="M443,170 L450,176 L470,168 L500,165 L510,170" stroke="#c8e6b6" stroke-width="8" fill="none" opacity="0.35" filter="url(#blur3)"/>
<path d="M449.8,175.6 L451,177.3 L460,178.2 L470,179.4 L487,181.2 L498,180.6 L505,179.2" stroke="#d2edb8" stroke-width="10.4" fill="none" stroke-linejoin="round" opacity="0.85" filter="url(#blur2)"/>
<path d="M449.8,175.6 L451,177.3 L460,178.2 L470,179.4 L487,181.2 L498,180.6 L505,179.2" stroke="#4ab0c6" stroke-width="5.8" fill="none" stroke-linejoin="round" filter="url(#blur05)"/>
<path d="M449.8,175.6 L451,177.3 L460,178.2 L470,179.4 L487,181.2 L498,180.6 L505,179.2" stroke="#17236a" stroke-width="3.4" fill="none" stroke-linejoin="round" filter="url(#blur05)"/>
<path d="M505,179.2 L507.5,176 L510,170 L512.5,166.8 L518.8,163.8" stroke="#d2edb8" stroke-width="9.7" fill="none" stroke-linejoin="round" opacity="0.85" filter="url(#blur2)"/>
<path d="M505,179.2 L507.5,176 L510,170 L512.5,166.8 L518.8,163.8" stroke="#4ab0c6" stroke-width="5.1" fill="none" stroke-linejoin="round" filter="url(#blur05)"/>
<path d="M505,179.2 L507.5,176 L510,170 L512.5,166.8 L518.8,163.8" stroke="#17236a" stroke-width="2.7" fill="none" stroke-linejoin="round" filter="url(#blur05)"/>
<defs><linearGradient id="ylgnbu" x1="0" y1="1" x2="0" y2="0"><stop offset="0" stop-color="#ffffd9"/><stop offset="0.125" stop-color="#edf8b1"/><stop offset="0.25" stop-color="#c7e9b4"/><stop offset="0.375" stop-color="#7fcdbb"/><stop offset="0.5" stop-color="#41b6c4"/><stop offset="0.625" stop-color="#1d91c0"/><stop offset="0.75" stop-color="#225ea8"/><stop offset="0.875" stop-color="#253494"/><stop offset="1" stop-color="#081d58"/></linearGradient></defs>
<rect x="523.3" y="106.7" width="3.5" height="83" fill="url(#ylgnbu)"/>
<line x1="526.8" y1="107.2" x2="528.3" y2="107.2" stroke="#444" stroke-width="0.4"/>
<text x="529" y="108.9" font-size="4.8" font-weight="normal" font-style="normal" text-anchor="start" fill="#333" >0.010</text>
<line x1="526.8" y1="123.7" x2="528.3" y2="123.7" stroke="#444" stroke-width="0.4"/>
<text x="529" y="125.4" font-size="4.8" font-weight="normal" font-style="normal" text-anchor="start" fill="#333" >0.008</text>
<line x1="526.8" y1="140.2" x2="528.3" y2="140.2" stroke="#444" stroke-width="0.4"/>
<text x="529" y="141.89999999999998" font-size="4.8" font-weight="normal" font-style="normal" text-anchor="start" fill="#333" >0.006</text>
<line x1="526.8" y1="156.7" x2="528.3" y2="156.7" stroke="#444" stroke-width="0.4"/>
<text x="529" y="158.39999999999998" font-size="4.8" font-weight="normal" font-style="normal" text-anchor="start" fill="#333" >0.004</text>
<line x1="526.8" y1="173.2" x2="528.3" y2="173.2" stroke="#444" stroke-width="0.4"/>
<text x="529" y="174.89999999999998" font-size="4.8" font-weight="normal" font-style="normal" text-anchor="start" fill="#333" >0.002</text>
<line x1="526.8" y1="189.7" x2="528.3" y2="189.7" stroke="#444" stroke-width="0.4"/>
<text x="529" y="191.39999999999998" font-size="4.8" font-weight="normal" font-style="normal" text-anchor="start" fill="#333" >0.000</text>
<path d="M544.3,44.6 L558.9,44.6 L558.9,39.6 L568.8,49.2 L558.9,58.9 L558.9,54.5 L544.3,54.5 Z" fill="#fff" stroke="#333" stroke-width="0.9" stroke-linejoin="miter"/>
<path d="M568.9,141.8 L554.4,141.8 L554.4,136.8 L544.7,146.3 L554.4,156 L554.4,151.5 L568.9,151.5 Z" fill="#fff" stroke="#333" stroke-width="0.9"/>
<rect x="570.5" y="8.1" width="113" height="187" rx="8" fill="#fff" stroke="#999" stroke-width="0.8"/>
<rect x="617.8" y="32" width="4.3" height="13" fill="#6f9a52"/>
<rect x="617.8" y="62" width="4.3" height="7.5" fill="#6f9a52"/>
<polygon points="615.6,68.8 624.4,68.8 620,74" fill="#6f9a52"/>
<rect x="669.8" y="62" width="3.6" height="102.5" fill="#6f9a52"/>
<rect x="663" y="84.5" width="8" height="4.3" fill="#6f9a52"/>
<polygon points="666.5,163.8 675.8,163.8 671.1,170" fill="#6f9a52"/>
<rect x="575.5" y="14.9" width="103.0" height="17.5" fill="#fff" stroke="#8a8a8a" stroke-width="0.8"/>
<text x="627.0" y="27.0" font-size="9.1" text-anchor="middle" fill="#111" textLength="82" lengthAdjust="spacingAndGlyphs">Low-pass smoothing</text>
<rect x="575.5" y="44.4" width="103.0" height="18.0" fill="#fff" stroke="#8a8a8a" stroke-width="0.8"/>
<text x="627.0" y="56.6" font-size="9.1" text-anchor="middle" fill="#111" textLength="58" lengthAdjust="spacingAndGlyphs">Downsampling</text>
<rect x="575.5" y="74.2" width="88.5" height="24.89999999999999" fill="#fff" stroke="#8a8a8a" stroke-width="0.8"/>
<text x="619.8" y="84.8" font-size="9.1" text-anchor="middle" fill="#111" textLength="83.3" lengthAdjust="spacingAndGlyphs">Soft-DTW barycenter</text>
<text x="619.8" y="93.5" font-size="9.1" text-anchor="middle" fill="#111" textLength="42" lengthAdjust="spacingAndGlyphs">computing</text>
<rect x="575.5" y="111.4" width="103.0" height="18.0" fill="#fff" stroke="#8a8a8a" stroke-width="0.8"/>
<text x="627.0" y="123.6" font-size="9.1" text-anchor="middle" fill="#111" textLength="61.4" lengthAdjust="spacingAndGlyphs">DTW alignment</text>
<rect x="575.5" y="141" width="103.0" height="17.69999999999999" fill="#fff" stroke="#8a8a8a" stroke-width="0.8"/>
<text x="627.0" y="153.3" font-size="9.1" text-anchor="middle" fill="#111" textLength="59.5" lengthAdjust="spacingAndGlyphs">Superimposing</text>
<rect x="575.5" y="170.3" width="103.0" height="18.099999999999994" fill="#fff" stroke="#8a8a8a" stroke-width="0.8"/>
<text x="627.0" y="182.2" font-size="9.1" text-anchor="middle" fill="#111" textLength="88.2" lengthAdjust="spacingAndGlyphs">Density matrices (DM)</text>
<text transform="translate(1.2,208.2) scale(0.9,1)" font-size="17" font-weight="bold" fill="#000">c</text>
<rect x="10.5" y="208.5" width="17.3" height="75.8" fill="#fff" stroke="#555a50" stroke-width="0.9"/>
<text transform="translate(23.6,281.5) rotate(-90)" font-size="12.5" fill="#111" textLength="69" lengthAdjust="spacingAndGlyphs"><tspan font-weight="bold" fill="#3cb44a">70%</tspan> training</text>
<path d="M10.4,290.5 L128.1,290.5 L136.9,299.4 L128.1,308.4 L10.4,308.4 Z" fill="#fff" stroke="#5a5f55" stroke-width="0.9"/>
<text x="15.8" y="304.6" font-size="13" fill="#111"><tspan font-weight="bold" fill="#4fb3e8">10%</tspan> validation</text>
<path d="M10.4,314.4 L128.1,314.4 L136.9,323.5 L128.1,332.6 L10.4,332.6 Z" fill="#fff" stroke="#5a5f55" stroke-width="0.9"/>
<text x="15.8" y="328.8" font-size="13" fill="#111"><tspan font-weight="bold" fill="#7030a0">20%</tspan> testing</text>
<line x1="35" y1="213" x2="89.5" y2="213" stroke="#222" stroke-width="0.7" stroke-dasharray="1.6,0.9"/>
<line x1="82.5" y1="263.1" x2="89.5" y2="263.1" stroke="#222" stroke-width="0.7" stroke-dasharray="1.6,0.9"/>
<rect x="32.6" y="212.9" width="14.2" height="13.4" fill="#d6ddd0" stroke="#2a2a2a" stroke-width="0.6"/>
<rect x="35.1" y="215.5" width="14.2" height="13.4" fill="#d6ddd0" stroke="#2a2a2a" stroke-width="0.6"/>
<rect x="37.7" y="218.2" width="14.2" height="13.4" fill="#d6ddd0" stroke="#2a2a2a" stroke-width="0.6"/>
<rect x="40.2" y="220.8" width="14.2" height="13.4" fill="#d6ddd0" stroke="#2a2a2a" stroke-width="0.6"/>
<rect x="42.8" y="223.4" width="14.2" height="13.4" fill="#d6ddd0" stroke="#2a2a2a" stroke-width="0.6"/>
<rect x="45.3" y="226.0" width="14.2" height="13.4" fill="#d6ddd0" stroke="#2a2a2a" stroke-width="0.6"/>
<rect x="47.9" y="228.7" width="14.2" height="13.4" fill="#d6ddd0" stroke="#2a2a2a" stroke-width="0.6"/>
<rect x="50.4" y="231.3" width="14.2" height="13.4" fill="#d6ddd0" stroke="#2a2a2a" stroke-width="0.6"/>
<rect x="52.9" y="233.9" width="14.2" height="13.4" fill="#d6ddd0" stroke="#2a2a2a" stroke-width="0.6"/>
<rect x="55.5" y="236.6" width="14.2" height="13.4" fill="#d6ddd0" stroke="#2a2a2a" stroke-width="0.6"/>
<rect x="58.0" y="239.2" width="14.2" height="13.4" fill="#d6ddd0" stroke="#2a2a2a" stroke-width="0.6"/>
<rect x="60.6" y="241.8" width="14.2" height="13.4" fill="#d6ddd0" stroke="#2a2a2a" stroke-width="0.6"/>
<rect x="63.1" y="244.4" width="14.2" height="13.4" fill="#d6ddd0" stroke="#2a2a2a" stroke-width="0.6"/>
<rect x="65.7" y="247.1" width="14.2" height="13.4" fill="#d6ddd0" stroke="#2a2a2a" stroke-width="0.6"/>
<rect x="68.2" y="249.7" width="14.2" height="13.4" fill="#e9efe6" stroke="#2a2a2a" stroke-width="0.6"/>
<rect x="89.5" y="213.2" width="5.6" height="49.9" fill="#f8eedb" stroke="#2a2a2a" stroke-width="0.7"/>
<line x1="95.1" y1="213.2" x2="102.5" y2="209.8" stroke="#333" stroke-width="0.5" stroke-dasharray="1,1"/>
<line x1="95.1" y1="263.1" x2="102.5" y2="266.6" stroke="#333" stroke-width="0.5" stroke-dasharray="1,1"/>
<line x1="105.5" y1="209.8" x2="124.9" y2="214.2" stroke="#555" stroke-width="0.25"/>
<line x1="105.5" y1="209.8" x2="124.9" y2="223.8" stroke="#555" stroke-width="0.25"/>
<line x1="105.5" y1="209.8" x2="124.9" y2="233.3" stroke="#555" stroke-width="0.25"/>
<line x1="105.5" y1="209.8" x2="124.9" y2="242.9" stroke="#555" stroke-width="0.25"/>
<line x1="105.5" y1="209.8" x2="124.9" y2="252.5" stroke="#555" stroke-width="0.25"/>
<line x1="105.5" y1="209.8" x2="124.9" y2="262.1" stroke="#555" stroke-width="0.25"/>
<line x1="105.5" y1="219.3" x2="124.9" y2="214.2" stroke="#555" stroke-width="0.25"/>
<line x1="105.5" y1="219.3" x2="124.9" y2="223.8" stroke="#555" stroke-width="0.25"/>
<line x1="105.5" y1="219.3" x2="124.9" y2="233.3" stroke="#555" stroke-width="0.25"/>
<line x1="105.5" y1="219.3" x2="124.9" y2="242.9" stroke="#555" stroke-width="0.25"/>
<line x1="105.5" y1="219.3" x2="124.9" y2="252.5" stroke="#555" stroke-width="0.25"/>
<line x1="105.5" y1="219.3" x2="124.9" y2="262.1" stroke="#555" stroke-width="0.25"/>
<line x1="105.5" y1="228.7" x2="124.9" y2="214.2" stroke="#555" stroke-width="0.25"/>
<line x1="105.5" y1="228.7" x2="124.9" y2="223.8" stroke="#555" stroke-width="0.25"/>
<line x1="105.5" y1="228.7" x2="124.9" y2="233.3" stroke="#555" stroke-width="0.25"/>
<line x1="105.5" y1="228.7" x2="124.9" y2="242.9" stroke="#555" stroke-width="0.25"/>
<line x1="105.5" y1="228.7" x2="124.9" y2="252.5" stroke="#555" stroke-width="0.25"/>
<line x1="105.5" y1="228.7" x2="124.9" y2="262.1" stroke="#555" stroke-width="0.25"/>
<line x1="105.5" y1="238.2" x2="124.9" y2="214.2" stroke="#555" stroke-width="0.25"/>
<line x1="105.5" y1="238.2" x2="124.9" y2="223.8" stroke="#555" stroke-width="0.25"/>
<line x1="105.5" y1="238.2" x2="124.9" y2="233.3" stroke="#555" stroke-width="0.25"/>
<line x1="105.5" y1="238.2" x2="124.9" y2="242.9" stroke="#555" stroke-width="0.25"/>
<line x1="105.5" y1="238.2" x2="124.9" y2="252.5" stroke="#555" stroke-width="0.25"/>
<line x1="105.5" y1="238.2" x2="124.9" y2="262.1" stroke="#555" stroke-width="0.25"/>
<line x1="105.5" y1="247.7" x2="124.9" y2="214.2" stroke="#555" stroke-width="0.25"/>
<line x1="105.5" y1="247.7" x2="124.9" y2="223.8" stroke="#555" stroke-width="0.25"/>
<line x1="105.5" y1="247.7" x2="124.9" y2="233.3" stroke="#555" stroke-width="0.25"/>
<line x1="105.5" y1="247.7" x2="124.9" y2="242.9" stroke="#555" stroke-width="0.25"/>
<line x1="105.5" y1="247.7" x2="124.9" y2="252.5" stroke="#555" stroke-width="0.25"/>
<line x1="105.5" y1="247.7" x2="124.9" y2="262.1" stroke="#555" stroke-width="0.25"/>
<line x1="105.5" y1="257.2" x2="124.9" y2="214.2" stroke="#555" stroke-width="0.25"/>
<line x1="105.5" y1="257.2" x2="124.9" y2="223.8" stroke="#555" stroke-width="0.25"/>
<line x1="105.5" y1="257.2" x2="124.9" y2="233.3" stroke="#555" stroke-width="0.25"/>
<line x1="105.5" y1="257.2" x2="124.9" y2="242.9" stroke="#555" stroke-width="0.25"/>
<line x1="105.5" y1="257.2" x2="124.9" y2="252.5" stroke="#555" stroke-width="0.25"/>
<line x1="105.5" y1="257.2" x2="124.9" y2="262.1" stroke="#555" stroke-width="0.25"/>
<line x1="105.5" y1="266.6" x2="124.9" y2="214.2" stroke="#555" stroke-width="0.25"/>
<line x1="105.5" y1="266.6" x2="124.9" y2="223.8" stroke="#555" stroke-width="0.25"/>
<line x1="105.5" y1="266.6" x2="124.9" y2="233.3" stroke="#555" stroke-width="0.25"/>
<line x1="105.5" y1="266.6" x2="124.9" y2="242.9" stroke="#555" stroke-width="0.25"/>
<line x1="105.5" y1="266.6" x2="124.9" y2="252.5" stroke="#555" stroke-width="0.25"/>
<line x1="105.5" y1="266.6" x2="124.9" y2="262.1" stroke="#555" stroke-width="0.25"/>
<line x1="124.9" y1="214.2" x2="136.3" y2="237" stroke="#666" stroke-width="0.3"/>
<line x1="124.9" y1="223.8" x2="136.3" y2="237" stroke="#666" stroke-width="0.3"/>
<line x1="124.9" y1="233.3" x2="136.3" y2="237" stroke="#666" stroke-width="0.3"/>
<line x1="124.9" y1="242.9" x2="136.3" y2="237" stroke="#666" stroke-width="0.3"/>
<line x1="124.9" y1="252.5" x2="136.3" y2="237" stroke="#666" stroke-width="0.3"/>
<line x1="124.9" y1="262.1" x2="136.3" y2="237" stroke="#666" stroke-width="0.3"/>
<circle cx="105.5" cy="209.8" r="3.5" fill="#dde7f1" stroke="#3a3a3a" stroke-width="0.6"/>
<circle cx="105.5" cy="219.3" r="3.5" fill="#dde7f1" stroke="#3a3a3a" stroke-width="0.6"/>
<circle cx="105.5" cy="228.7" r="3.5" fill="#dde7f1" stroke="#3a3a3a" stroke-width="0.6"/>
<circle cx="105.5" cy="238.2" r="3.5" fill="#dde7f1" stroke="#3a3a3a" stroke-width="0.6"/>
<circle cx="105.5" cy="247.7" r="3.5" fill="#dde7f1" stroke="#3a3a3a" stroke-width="0.6"/>
<circle cx="105.5" cy="257.2" r="3.5" fill="#dde7f1" stroke="#3a3a3a" stroke-width="0.6"/>
<circle cx="105.5" cy="266.6" r="3.5" fill="#dde7f1" stroke="#3a3a3a" stroke-width="0.6"/>
<circle cx="124.9" cy="214.2" r="3.5" fill="#f3f2d2" stroke="#3a3a3a" stroke-width="0.6"/>
<circle cx="124.9" cy="223.8" r="3.5" fill="#f3f2d2" stroke="#3a3a3a" stroke-width="0.6"/>
<circle cx="124.9" cy="233.3" r="3.5" fill="#f3f2d2" stroke="#3a3a3a" stroke-width="0.6"/>
<circle cx="124.9" cy="242.9" r="3.5" fill="#f3f2d2" stroke="#3a3a3a" stroke-width="0.6"/>
<circle cx="124.9" cy="252.5" r="3.5" fill="#f3f2d2" stroke="#3a3a3a" stroke-width="0.6"/>
<circle cx="124.9" cy="262.1" r="3.5" fill="#f3f2d2" stroke="#3a3a3a" stroke-width="0.6"/>
<text x="91.1" y="287.8" font-size="12.3" font-weight="bold" font-style="normal" text-anchor="middle" fill="#111" >CNN</text>
<rect x="136.3" y="218.8" width="39.7" height="39" fill="#fff"/>
<rect x="136.30" y="218.80" width="3.97" height="3.90" fill="#6b8f4e"/>
<rect x="140.27" y="222.70" width="3.97" height="3.90" fill="#6b8f4e"/>
<rect x="144.24" y="226.60" width="3.97" height="3.90" fill="#6b8f4e"/>
<rect x="148.21" y="230.50" width="3.97" height="3.90" fill="#6b8f4e"/>
<rect x="152.18" y="234.40" width="3.97" height="3.90" fill="#6b8f4e"/>
<rect x="156.15" y="238.30" width="3.97" height="3.90" fill="#6b8f4e"/>
<rect x="160.12" y="242.20" width="3.97" height="3.90" fill="#6b8f4e"/>
<rect x="164.09" y="246.10" width="3.97" height="3.90" fill="#6b8f4e"/>
<rect x="168.06" y="250.00" width="3.97" height="3.90" fill="#6b8f4e"/>
<rect x="172.03" y="253.90" width="3.97" height="3.90" fill="#6b8f4e"/>
<line x1="136.30" y1="218.8" x2="136.30" y2="257.8" stroke="#3a3a3a" stroke-width="0.45"/>
<line x1="136.3" y1="218.80" x2="176.0" y2="218.80" stroke="#3a3a3a" stroke-width="0.45"/>
<line x1="140.27" y1="218.8" x2="140.27" y2="257.8" stroke="#3a3a3a" stroke-width="0.45"/>
<line x1="136.3" y1="222.70" x2="176.0" y2="222.70" stroke="#3a3a3a" stroke-width="0.45"/>
<line x1="144.24" y1="218.8" x2="144.24" y2="257.8" stroke="#3a3a3a" stroke-width="0.45"/>
<line x1="136.3" y1="226.60" x2="176.0" y2="226.60" stroke="#3a3a3a" stroke-width="0.45"/>
<line x1="148.21" y1="218.8" x2="148.21" y2="257.8" stroke="#3a3a3a" stroke-width="0.45"/>
<line x1="136.3" y1="230.50" x2="176.0" y2="230.50" stroke="#3a3a3a" stroke-width="0.45"/>
<line x1="152.18" y1="218.8" x2="152.18" y2="257.8" stroke="#3a3a3a" stroke-width="0.45"/>
<line x1="136.3" y1="234.40" x2="176.0" y2="234.40" stroke="#3a3a3a" stroke-width="0.45"/>
<line x1="156.15" y1="218.8" x2="156.15" y2="257.8" stroke="#3a3a3a" stroke-width="0.45"/>
<line x1="136.3" y1="238.30" x2="176.0" y2="238.30" stroke="#3a3a3a" stroke-width="0.45"/>
<line x1="160.12" y1="218.8" x2="160.12" y2="257.8" stroke="#3a3a3a" stroke-width="0.45"/>
<line x1="136.3" y1="242.20" x2="176.0" y2="242.20" stroke="#3a3a3a" stroke-width="0.45"/>
<line x1="164.09" y1="218.8" x2="164.09" y2="257.8" stroke="#3a3a3a" stroke-width="0.45"/>
<line x1="136.3" y1="246.10" x2="176.0" y2="246.10" stroke="#3a3a3a" stroke-width="0.45"/>
<line x1="168.06" y1="218.8" x2="168.06" y2="257.8" stroke="#3a3a3a" stroke-width="0.45"/>
<line x1="136.3" y1="250.00" x2="176.0" y2="250.00" stroke="#3a3a3a" stroke-width="0.45"/>
<line x1="172.03" y1="218.8" x2="172.03" y2="257.8" stroke="#3a3a3a" stroke-width="0.45"/>
<line x1="136.3" y1="253.90" x2="176.0" y2="253.90" stroke="#3a3a3a" stroke-width="0.45"/>
<line x1="176.00" y1="218.8" x2="176.00" y2="257.8" stroke="#3a3a3a" stroke-width="0.45"/>
<line x1="136.3" y1="257.80" x2="176.0" y2="257.80" stroke="#3a3a3a" stroke-width="0.45"/>
<rect x="204.1" y="219.2" width="39.4" height="39.4" fill="#fff"/>
<rect x="204.10" y="219.20" width="3.94" height="3.94" fill="#b0507e"/>
<rect x="208.04" y="223.14" width="3.94" height="3.94" fill="#b0507e"/>
<rect x="211.98" y="227.08" width="3.94" height="3.94" fill="#b0507e"/>
<rect x="215.92" y="231.02" width="3.94" height="3.94" fill="#b0507e"/>
<rect x="219.86" y="234.96" width="3.94" height="3.94" fill="#b0507e"/>
<rect x="223.80" y="238.90" width="3.94" height="3.94" fill="#b0507e"/>
<rect x="227.74" y="242.84" width="3.94" height="3.94" fill="#b0507e"/>
<rect x="231.68" y="246.78" width="3.94" height="3.94" fill="#b0507e"/>
<rect x="235.62" y="250.72" width="3.94" height="3.94" fill="#b0507e"/>
<rect x="239.56" y="254.66" width="3.94" height="3.94" fill="#b0507e"/>
<line x1="204.10" y1="219.2" x2="204.10" y2="258.59999999999997" stroke="#3a3a3a" stroke-width="0.45"/>
<line x1="204.1" y1="219.20" x2="243.5" y2="219.20" stroke="#3a3a3a" stroke-width="0.45"/>
<line x1="208.04" y1="219.2" x2="208.04" y2="258.59999999999997" stroke="#3a3a3a" stroke-width="0.45"/>
<line x1="204.1" y1="223.14" x2="243.5" y2="223.14" stroke="#3a3a3a" stroke-width="0.45"/>
<line x1="211.98" y1="219.2" x2="211.98" y2="258.59999999999997" stroke="#3a3a3a" stroke-width="0.45"/>
<line x1="204.1" y1="227.08" x2="243.5" y2="227.08" stroke="#3a3a3a" stroke-width="0.45"/>
<line x1="215.92" y1="219.2" x2="215.92" y2="258.59999999999997" stroke="#3a3a3a" stroke-width="0.45"/>
<line x1="204.1" y1="231.02" x2="243.5" y2="231.02" stroke="#3a3a3a" stroke-width="0.45"/>
<line x1="219.86" y1="219.2" x2="219.86" y2="258.59999999999997" stroke="#3a3a3a" stroke-width="0.45"/>
<line x1="204.1" y1="234.96" x2="243.5" y2="234.96" stroke="#3a3a3a" stroke-width="0.45"/>
<line x1="223.80" y1="219.2" x2="223.80" y2="258.59999999999997" stroke="#3a3a3a" stroke-width="0.45"/>
<line x1="204.1" y1="238.90" x2="243.5" y2="238.90" stroke="#3a3a3a" stroke-width="0.45"/>
<line x1="227.74" y1="219.2" x2="227.74" y2="258.59999999999997" stroke="#3a3a3a" stroke-width="0.45"/>
<line x1="204.1" y1="242.84" x2="243.5" y2="242.84" stroke="#3a3a3a" stroke-width="0.45"/>
<line x1="231.68" y1="219.2" x2="231.68" y2="258.59999999999997" stroke="#3a3a3a" stroke-width="0.45"/>
<line x1="204.1" y1="246.78" x2="243.5" y2="246.78" stroke="#3a3a3a" stroke-width="0.45"/>
<line x1="235.62" y1="219.2" x2="235.62" y2="258.59999999999997" stroke="#3a3a3a" stroke-width="0.45"/>
<line x1="204.1" y1="250.72" x2="243.5" y2="250.72" stroke="#3a3a3a" stroke-width="0.45"/>
<line x1="239.56" y1="219.2" x2="239.56" y2="258.59999999999997" stroke="#3a3a3a" stroke-width="0.45"/>
<line x1="204.1" y1="254.66" x2="243.5" y2="254.66" stroke="#3a3a3a" stroke-width="0.45"/>
<line x1="243.50" y1="219.2" x2="243.50" y2="258.59999999999997" stroke="#3a3a3a" stroke-width="0.45"/>
<line x1="204.1" y1="258.60" x2="243.5" y2="258.60" stroke="#3a3a3a" stroke-width="0.45"/>
<rect x="181" y="218.7" width="14.5" height="71.3" fill="#7030a0" stroke="#4a1f6e" stroke-width="0.6"/>
<text transform="translate(191.3,288.2) rotate(-90)" font-size="8.6" font-weight="bold" fill="#fff" textLength="66.4" lengthAdjust="spacingAndGlyphs">DM reconfirming</text>
<path d="M156.7,275.5 L156.7,265.3 L181,265.3 M195.5,265.3 L224.6,265.3 L224.6,272" stroke="#111" stroke-width="1.35" fill="none"/>
<path d="M221.8,270 L224.6,273.8 L227.4,270" stroke="#111" stroke-width="1.1" fill="none"/>
<path d="M137,323 L156.7,323 L156.7,293" stroke="#111" stroke-width="1.35" fill="none"/>
<path d="M153.9,295 L156.7,291.2 L159.5,295" stroke="#111" stroke-width="1.1" fill="none"/>
<path d="M259.5,314.5 L188.7,314.5 L188.7,293" stroke="#7030a0" stroke-width="1.4" fill="none" stroke-dasharray="4.5,2.6"/>
<path d="M186,295 L188.7,291.3 L191.4,295" stroke="#7030a0" stroke-width="1.1" fill="none"/>
<text x="156" y="287.6" font-size="12.2" font-weight="bold" font-style="normal" text-anchor="middle" fill="#111" >Class</text>
<text x="224.4" y="287.6" font-size="12.2" font-weight="bold" font-style="normal" text-anchor="middle" fill="#111" >Predict</text>
<rect x="260" y="213.8" width="121.5" height="119.4" fill="#f4fbd4"/>
<line x1="258" y1="213.8" x2="260" y2="213.8" stroke="#444" stroke-width="0.4"/>
<text x="253.3" y="215.7" font-size="5" font-weight="normal" font-style="normal" text-anchor="start" fill="#333" >1</text>
<text x="253" y="335.5" font-size="5" font-weight="normal" font-style="normal" text-anchor="start" fill="#333" >0</text>
<text x="258.7" y="340.5" font-size="5" font-weight="normal" font-style="normal" text-anchor="start" fill="#333" >0</text>
<text x="377" y="340.5" font-size="5" font-weight="normal" font-style="normal" text-anchor="start" fill="#333" >100</text>
<path d="M260.5,297.7 L265,297.5 L269.6,297.2" stroke="#b9e3b5" stroke-width="12" fill="none" opacity="0.9" filter="url(#blur2)"/>
<path d="M260.5,297.7 L265,297.5 L269.6,297.2" stroke="#5dbcc9" stroke-width="8.5" fill="none" filter="url(#blur09)"/>
<path d="M260.5,297.7 L265,297.5 L269.6,297.2" stroke="#1c2f7c" stroke-width="4.8" fill="none" filter="url(#blur05)"/>
<path d="M269.9,312.5 L280,313.5 L290,314.5 L300,315.3 L310,315.3 L320,314.3 L330,312.5 L340,310.5 L350,308.6 L357.5,307.2 L360,300 L370,298.5 L381,297" stroke="#b9e3b5" stroke-width="14" fill="none" opacity="0.9" filter="url(#blur2)"/>
<path d="M269.9,312.5 L280,313.5 L290,314.5 L300,315.3 L310,315.3 L320,314.3 L330,312.5 L340,310.5 L350,308.6 L357.5,307.2 L360,300 L370,298.5 L381,297" stroke="#5dbcc9" stroke-width="10" fill="none" filter="url(#blur09)"/>
<path d="M269.9,312.5 L280,313.5 L290,314.5 L300,315.3 L310,315.3 L320,314.3 L330,312.5 L340,310.5 L350,308.6 L357.5,307.2 L360,300 L370,298.5 L381,297" stroke="#1c2f7c" stroke-width="4.4" fill="none" filter="url(#blur05)"/>
<line x1="269.8" y1="297" x2="269.8" y2="313" stroke="#3aa0c2" stroke-width="1.2" opacity="0.7"/>
<rect x="259.8" y="269.5" width="1.4" height="5" fill="#1a2a70"/>
<path d="M261.0,296.5 L263.0,294.5 L266.5,293.2 L269.4,292.5 L269.8,312.0 L271.0,313.6 L273.0,314.2 L275.0,314.5 L277.0,315.2 L279.0,314.8 L281.0,315.6 L283.0,312.9 L285.0,314.5 L287.0,316.2 L289.0,315.5 L291.0,316.5 L293.0,314.1 L295.0,315.4 L297.0,314.8 L299.0,316.0 L301.0,316.1 L303.0,314.3 L305.0,315.0 L307.0,315.2 L309.0,317.2 L311.0,316.7 L313.0,314.5 L315.0,316.4 L317.0,314.0 L319.0,315.4 L321.0,313.5 L323.0,312.8 L325.0,315.2 L327.0,312.7 L329.0,312.4 L331.0,314.4 L333.0,313.7 L335.0,311.4 L337.0,313.2 L339.0,311.4 L341.0,311.5 L343.0,309.6 L345.0,311.6 L347.0,310.4 L349.0,310.9 L351.0,310.3 L353.0,308.0 L355.0,307.8 L357.0,306.8 L359.5,305.0 L360.0,297.0 L362.0,300.0 L366.0,298.5 L370.0,298.0 L374.0,297.5 L379.5,297.0" stroke="#e8202a" stroke-width="1.3" fill="none" stroke-linejoin="round"/>
<path d="M260.6,265.5 L260.8,285.0 L261.6,300.0 L263.2,305.8 L276.0,305.8 L277.0,304.2 L279.2,304.0 L281.4,304.6 L283.6,305.2 L285.8,303.9 L288.0,305.4 L290.2,304.6 L292.4,304.6 L294.6,305.7 L296.8,305.0 L299.0,304.6 L301.2,305.0 L303.4,305.5 L305.6,304.0 L307.8,306.0 L310.0,304.0 L312.2,305.5 L314.8,304.5 L316.5,312.0 L322.0,312.3 L326.6,308.6 L330.0,315.0 L335.0,316.0 L345.0,316.5 L355.0,316.0 L359.8,303.0 L362.0,310.0 L365.5,315.2 L368.0,308.0 L371.2,310.5 L372.5,293.4 L377.8,295.0 L379.7,277.3 L380.8,297.0" stroke="#2b2bee" stroke-width="1.15" fill="none" stroke-linejoin="round"/>
<rect x="309.5" y="216.6" width="69" height="20.5" fill="#fff" fill-opacity="0.85" stroke="#ddd" stroke-width="0.5" rx="1"/>
<line x1="311.8" y1="221" x2="326.7" y2="221" stroke="#e8242a" stroke-width="1"/>
<line x1="311.8" y1="231.5" x2="326.7" y2="231.5" stroke="#2a2ae8" stroke-width="1"/>
<text x="375.9" y="224" font-size="7.2" text-anchor="end" fill="#222">high similarity</text>
<text x="375.9" y="234" font-size="7.2" text-anchor="end" fill="#222">low similarity</text>
<text x="265.6" y="225.9" font-size="9.4" font-weight="bold" font-style="normal" text-anchor="start" fill="#111" >Pep1</text>
<rect x="384.9" y="213.3" width="6" height="120" fill="url(#ylgnbu)"/>
<line x1="390.9" y1="213.8" x2="392.8" y2="213.8" stroke="#444" stroke-width="0.4"/>
<text x="394.2" y="215.8" font-size="5.7" font-weight="normal" font-style="normal" text-anchor="start" fill="#333" >0.10</text>
<line x1="390.9" y1="237.7" x2="392.8" y2="237.7" stroke="#444" stroke-width="0.4"/>
<text x="394.2" y="239.70000000000002" font-size="5.7" font-weight="normal" font-style="normal" text-anchor="start" fill="#333" >0.08</text>
<line x1="390.9" y1="261.6" x2="392.8" y2="261.6" stroke="#444" stroke-width="0.4"/>
<text x="394.2" y="263.6" font-size="5.7" font-weight="normal" font-style="normal" text-anchor="start" fill="#333" >0.06</text>
<line x1="390.9" y1="285.5" x2="392.8" y2="285.5" stroke="#444" stroke-width="0.4"/>
<text x="394.2" y="287.5" font-size="5.7" font-weight="normal" font-style="normal" text-anchor="start" fill="#333" >0.04</text>
<line x1="390.9" y1="309.4" x2="392.8" y2="309.4" stroke="#444" stroke-width="0.4"/>
<text x="394.2" y="311.4" font-size="5.7" font-weight="normal" font-style="normal" text-anchor="start" fill="#333" >0.02</text>
<line x1="390.9" y1="333.3" x2="392.8" y2="333.3" stroke="#444" stroke-width="0.4"/>
<text x="394.2" y="335.3" font-size="5.7" font-weight="normal" font-style="normal" text-anchor="start" fill="#333" >0.00</text>
<text x="426.3" y="212.7" font-size="17.2" font-weight="bold" font-style="normal" text-anchor="start" fill="#000" >d</text>
<rect x="452.9" y="222.0" width="100.89000000000001" height="99.69" fill="#f5f1eb"/>
<rect x="452.90" y="222.00" width="33.63" height="33.23" fill="#2c1d3e" stroke="#c83a3a" stroke-width="0.8"/>
<text x="469.7" y="241.9" font-size="9.6" font-weight="normal" font-style="normal" text-anchor="middle" fill="#f4f0f4" >96.6</text>
<text x="503.3" y="241.9" font-size="9.6" font-weight="normal" font-style="normal" text-anchor="middle" fill="#3a3a3a" >2.5</text>
<text x="537.0" y="241.9" font-size="9.6" font-weight="normal" font-style="normal" text-anchor="middle" fill="#3a3a3a" >0.8</text>
<text x="469.7" y="275.1" font-size="9.6" font-weight="normal" font-style="normal" text-anchor="middle" fill="#3a3a3a" >1.1</text>
<rect x="486.53" y="255.23" width="33.63" height="33.23" fill="#2c1d3e" stroke="#c83a3a" stroke-width="0.8"/>
<text x="503.3" y="275.1" font-size="9.6" font-weight="normal" font-style="normal" text-anchor="middle" fill="#f4f0f4" >98.0</text>
<text x="537.0" y="275.1" font-size="9.6" font-weight="normal" font-style="normal" text-anchor="middle" fill="#3a3a3a" >0.9</text>
<text x="469.7" y="308.4" font-size="9.6" font-weight="normal" font-style="normal" text-anchor="middle" fill="#3a3a3a" >1.0</text>
<text x="503.3" y="308.4" font-size="9.6" font-weight="normal" font-style="normal" text-anchor="middle" fill="#3a3a3a" >1.7</text>
<rect x="520.16" y="288.46" width="33.63" height="33.23" fill="#2c1d3e" stroke="#c83a3a" stroke-width="0.8"/>
<text x="537.0" y="308.4" font-size="9.6" font-weight="normal" font-style="normal" text-anchor="middle" fill="#f4f0f4" >97.3</text>
<text x="469.7" y="330.2" font-size="7.2" font-weight="normal" font-style="normal" text-anchor="middle" fill="#333" >Pep1</text>
<line x1="469.7" y1="321.69" x2="469.7" y2="323.19" stroke="#555" stroke-width="0.4"/>
<text x="503.3" y="330.2" font-size="7.2" font-weight="normal" font-style="normal" text-anchor="middle" fill="#333" >Pep2</text>
<line x1="503.3" y1="321.69" x2="503.3" y2="323.19" stroke="#555" stroke-width="0.4"/>
<text x="537.0" y="330.2" font-size="7.2" font-weight="normal" font-style="normal" text-anchor="middle" fill="#333" >Pep3</text>
<line x1="537.0" y1="321.69" x2="537.0" y2="323.19" stroke="#555" stroke-width="0.4"/>
<rect x="561.1" y="222.0" width="100.89000000000001" height="99.69" fill="#f5f1eb"/>
<rect x="561.10" y="222.00" width="33.63" height="33.23" fill="#2c1d3e" stroke="#c83a3a" stroke-width="0.8"/>
<text x="577.9" y="241.9" font-size="9.6" font-weight="normal" font-style="normal" text-anchor="middle" fill="#f4f0f4" >98.4</text>
<text x="611.5" y="241.9" font-size="9.6" font-weight="normal" font-style="normal" text-anchor="middle" fill="#3a3a3a" >0.9</text>
<text x="645.2" y="241.9" font-size="9.6" font-weight="normal" font-style="normal" text-anchor="middle" fill="#3a3a3a" >0.7</text>
<text x="577.9" y="275.1" font-size="9.6" font-weight="normal" font-style="normal" text-anchor="middle" fill="#3a3a3a" >0.2</text>
<rect x="594.73" y="255.23" width="33.63" height="33.23" fill="#2c1d3e" stroke="#c83a3a" stroke-width="0.8"/>
<text x="611.5" y="275.1" font-size="9.6" font-weight="normal" font-style="normal" text-anchor="middle" fill="#f4f0f4" >99.3</text>
<text x="645.2" y="275.1" font-size="9.6" font-weight="normal" font-style="normal" text-anchor="middle" fill="#3a3a3a" >0.5</text>
<text x="577.9" y="308.4" font-size="9.6" font-weight="normal" font-style="normal" text-anchor="middle" fill="#3a3a3a" >0.1</text>
<text x="611.5" y="308.4" font-size="9.6" font-weight="normal" font-style="normal" text-anchor="middle" fill="#3a3a3a" >0.1</text>
<rect x="628.36" y="288.46" width="33.63" height="33.23" fill="#2c1d3e" stroke="#c83a3a" stroke-width="0.8"/>
<text x="645.2" y="308.4" font-size="9.6" font-weight="normal" font-style="normal" text-anchor="middle" fill="#f4f0f4" >99.7</text>
<text x="577.9" y="330.2" font-size="7.2" font-weight="normal" font-style="normal" text-anchor="middle" fill="#333" >Pep1</text>
<line x1="577.9" y1="321.69" x2="577.9" y2="323.19" stroke="#555" stroke-width="0.4"/>
<text x="611.5" y="330.2" font-size="7.2" font-weight="normal" font-style="normal" text-anchor="middle" fill="#333" >Pep2</text>
<line x1="611.5" y1="321.69" x2="611.5" y2="323.19" stroke="#555" stroke-width="0.4"/>
<text x="645.2" y="330.2" font-size="7.2" font-weight="normal" font-style="normal" text-anchor="middle" fill="#333" >Pep3</text>
<line x1="645.2" y1="321.69" x2="645.2" y2="323.19" stroke="#555" stroke-width="0.4"/>
<text x="449.9" y="241.5" font-size="7.1" font-weight="normal" font-style="normal" text-anchor="end" fill="#333" >Pep1</text>
<line x1="450.5" y1="239.0" x2="452.3" y2="239.0" stroke="#555" stroke-width="0.4"/>
<text x="449.9" y="274.0" font-size="7.1" font-weight="normal" font-style="normal" text-anchor="end" fill="#333" >Pep2</text>
<line x1="450.5" y1="271.5" x2="452.3" y2="271.5" stroke="#555" stroke-width="0.4"/>
<text x="449.9" y="306.5" font-size="7.1" font-weight="normal" font-style="normal" text-anchor="end" fill="#333" >Pep3</text>
<line x1="450.5" y1="304.0" x2="452.3" y2="304.0" stroke="#555" stroke-width="0.4"/>
<text transform="translate(431.5,273) rotate(-90)" font-size="9.6" font-weight="bold" fill="#111" text-anchor="middle">True</text>
<text x="558.2" y="341.6" font-size="9.8" font-weight="bold" font-style="normal" text-anchor="middle" fill="#111" >Predict</text>
<text x="471.6" y="216.9" font-size="12.5" fill="#111" textLength="67" lengthAdjust="spacingAndGlyphs"><tspan font-weight="bold">CNN</tspan>(97.5%)</text>
<text x="567.2" y="216.9" font-size="12.5" fill="#111" textLength="92.8" lengthAdjust="spacingAndGlyphs"><tspan font-weight="bold">CNN-DM</tspan>(99.2%)</text>
<defs><linearGradient id="rocket" x1="0" y1="1" x2="0" y2="0"><stop offset="0" stop-color="#f7f2ee"/><stop offset="0.2" stop-color="#eed0d6"/><stop offset="0.4" stop-color="#cf98b4"/><stop offset="0.6" stop-color="#a0669a"/><stop offset="0.8" stop-color="#6a3a78"/><stop offset="1" stop-color="#2d1e3e"/></linearGradient></defs>
<rect x="667.7" y="221.7" width="6.1" height="100.5" fill="url(#rocket)"/>
<line x1="673.8" y1="221.9" x2="675.2" y2="221.9" stroke="#555" stroke-width="0.4"/>
<text x="676" y="223.4" font-size="4.3" font-weight="normal" font-style="normal" text-anchor="start" fill="#333" >100</text>
<line x1="673.8" y1="242.0" x2="675.2" y2="242.0" stroke="#555" stroke-width="0.4"/>
<text x="676" y="243.46" font-size="4.3" font-weight="normal" font-style="normal" text-anchor="start" fill="#333" >80</text>
<line x1="673.8" y1="262.0" x2="675.2" y2="262.0" stroke="#555" stroke-width="0.4"/>
<text x="676" y="263.52" font-size="4.3" font-weight="normal" font-style="normal" text-anchor="start" fill="#333" >60</text>
<line x1="673.8" y1="282.1" x2="675.2" y2="282.1" stroke="#555" stroke-width="0.4"/>
<text x="676" y="283.58" font-size="4.3" font-weight="normal" font-style="normal" text-anchor="start" fill="#333" >40</text>
<line x1="673.8" y1="302.1" x2="675.2" y2="302.1" stroke="#555" stroke-width="0.4"/>
<text x="676" y="303.64" font-size="4.3" font-weight="normal" font-style="normal" text-anchor="start" fill="#333" >20</text>
<line x1="673.8" y1="322.2" x2="675.2" y2="322.2" stroke="#555" stroke-width="0.4"/>
<text x="676" y="323.7" font-size="4.3" font-weight="normal" font-style="normal" text-anchor="start" fill="#333" >0</text>
</svg>
</body></html>
